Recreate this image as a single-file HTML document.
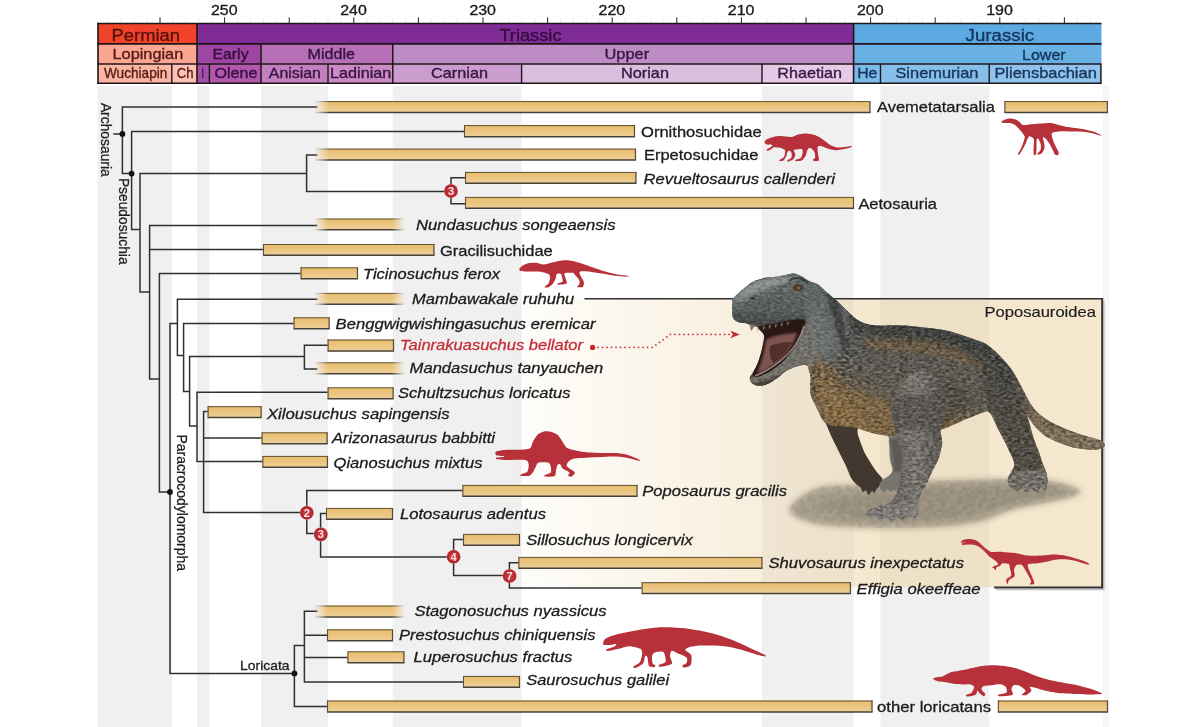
<!DOCTYPE html>
<html lang="en"><head><meta charset="utf-8"><title>Poposauroidea time-calibrated phylogeny</title>
<style>
html,body{margin:0;padding:0;background:#fff;}
body{width:1200px;height:727px;overflow:hidden;font-family:"Liberation Sans",sans-serif;}
svg{display:block;}
text{font-family:"Liberation Sans",sans-serif;}
</style></head><body>
<svg width="1200" height="727" viewBox="0 0 1200 727">
<defs>
<linearGradient id="barG" x1="0" y1="0" x2="0" y2="1">
 <stop offset="0" stop-color="#E7BC6C"/><stop offset="0.45" stop-color="#EBC47E"/><stop offset="1" stop-color="#EDD09B"/>
</linearGradient>
<linearGradient id="boxG" gradientUnits="userSpaceOnUse" x1="490" y1="0" x2="870" y2="0">
 <stop offset="0" stop-color="#ECD2A2" stop-opacity="0"/><stop offset="1" stop-color="#ECD2A2" stop-opacity="0.52"/>
</linearGradient>
<linearGradient id="fadeL" gradientUnits="userSpaceOnUse" x1="314" y1="0" x2="329" y2="0">
 <stop offset="0" stop-color="#fff" stop-opacity="0"/><stop offset="1" stop-color="#fff" stop-opacity="1"/>
</linearGradient>
<linearGradient id="fadeLR" gradientUnits="userSpaceOnUse" x1="314" y1="0" x2="405" y2="0">
 <stop offset="0" stop-color="#fff" stop-opacity="0"/><stop offset="0.15" stop-color="#fff" stop-opacity="1"/>
 <stop offset="0.86" stop-color="#fff" stop-opacity="1"/><stop offset="1" stop-color="#fff" stop-opacity="0"/>
</linearGradient>
<mask id="mL" maskUnits="userSpaceOnUse" x="300" y="90" width="820" height="640"><rect x="300" y="90" width="820" height="640" fill="url(#fadeL)"/></mask>
<mask id="mLR" maskUnits="userSpaceOnUse" x="300" y="90" width="120" height="640"><rect x="300" y="90" width="120" height="640" fill="url(#fadeLR)"/></mask>
<filter id="blur3" x="-20%" y="-40%" width="140%" height="180%"><feGaussianBlur stdDeviation="3.2"/></filter>
<filter id="blur1" x="-20%" y="-20%" width="140%" height="140%"><feGaussianBlur stdDeviation="1.2"/></filter>
<filter id="blur2" x="-20%" y="-20%" width="140%" height="140%"><feGaussianBlur stdDeviation="2.2"/></filter>
<filter id="blur5" x="-30%" y="-30%" width="160%" height="160%"><feGaussianBlur stdDeviation="5"/></filter>
<filter id="soft" x="-5%" y="-5%" width="110%" height="110%"><feGaussianBlur stdDeviation="0.45"/></filter>
</defs>
<rect x="0" y="0" width="1200" height="727" fill="#fff"/>
<rect x="97.5" y="86" width="74.5" height="641" fill="#F0F0F0"/>
<rect x="197" y="86" width="12.4" height="641" fill="#F0F0F0"/>
<rect x="261" y="86" width="67.0" height="641" fill="#F0F0F0"/>
<rect x="392.8" y="86" width="128.8" height="641" fill="#F0F0F0"/>
<rect x="762" y="86" width="91.6" height="641" fill="#F0F0F0"/>
<rect x="880.5" y="86" width="108.7" height="641" fill="#F0F0F0"/>
<rect x="1103" y="86" width="6" height="641" fill="#F6F6F6"/>
<rect x="490" y="298.7" width="612.2" height="288.6" fill="url(#boxG)"/>
<line x1="1090.2" y1="19.5" x2="1090.2" y2="23.5" stroke="#e2e2e2" stroke-width="0.9"/>
<line x1="1077.3" y1="19.5" x2="1077.3" y2="23.5" stroke="#e2e2e2" stroke-width="0.9"/>
<line x1="1064.4" y1="17.3" x2="1064.4" y2="23.5" stroke="#222" stroke-width="1"/>
<line x1="1051.5" y1="19.5" x2="1051.5" y2="23.5" stroke="#e2e2e2" stroke-width="0.9"/>
<line x1="1038.6" y1="19.5" x2="1038.6" y2="23.5" stroke="#e2e2e2" stroke-width="0.9"/>
<line x1="1025.6" y1="19.5" x2="1025.6" y2="23.5" stroke="#e2e2e2" stroke-width="0.9"/>
<line x1="1012.7" y1="19.5" x2="1012.7" y2="23.5" stroke="#e2e2e2" stroke-width="0.9"/>
<line x1="999.8" y1="17.3" x2="999.8" y2="23.5" stroke="#222" stroke-width="1"/>
<line x1="986.9" y1="19.5" x2="986.9" y2="23.5" stroke="#e2e2e2" stroke-width="0.9"/>
<line x1="974.0" y1="19.5" x2="974.0" y2="23.5" stroke="#e2e2e2" stroke-width="0.9"/>
<line x1="961.0" y1="19.5" x2="961.0" y2="23.5" stroke="#e2e2e2" stroke-width="0.9"/>
<line x1="948.1" y1="19.5" x2="948.1" y2="23.5" stroke="#e2e2e2" stroke-width="0.9"/>
<line x1="935.2" y1="17.3" x2="935.2" y2="23.5" stroke="#222" stroke-width="1"/>
<line x1="922.3" y1="19.5" x2="922.3" y2="23.5" stroke="#e2e2e2" stroke-width="0.9"/>
<line x1="909.4" y1="19.5" x2="909.4" y2="23.5" stroke="#e2e2e2" stroke-width="0.9"/>
<line x1="896.4" y1="19.5" x2="896.4" y2="23.5" stroke="#e2e2e2" stroke-width="0.9"/>
<line x1="883.5" y1="19.5" x2="883.5" y2="23.5" stroke="#e2e2e2" stroke-width="0.9"/>
<line x1="870.6" y1="17.3" x2="870.6" y2="23.5" stroke="#222" stroke-width="1"/>
<line x1="857.7" y1="19.5" x2="857.7" y2="23.5" stroke="#e2e2e2" stroke-width="0.9"/>
<line x1="844.8" y1="19.5" x2="844.8" y2="23.5" stroke="#e2e2e2" stroke-width="0.9"/>
<line x1="831.8" y1="19.5" x2="831.8" y2="23.5" stroke="#e2e2e2" stroke-width="0.9"/>
<line x1="818.9" y1="19.5" x2="818.9" y2="23.5" stroke="#e2e2e2" stroke-width="0.9"/>
<line x1="806.0" y1="17.3" x2="806.0" y2="23.5" stroke="#222" stroke-width="1"/>
<line x1="793.1" y1="19.5" x2="793.1" y2="23.5" stroke="#e2e2e2" stroke-width="0.9"/>
<line x1="780.2" y1="19.5" x2="780.2" y2="23.5" stroke="#e2e2e2" stroke-width="0.9"/>
<line x1="767.2" y1="19.5" x2="767.2" y2="23.5" stroke="#e2e2e2" stroke-width="0.9"/>
<line x1="754.3" y1="19.5" x2="754.3" y2="23.5" stroke="#e2e2e2" stroke-width="0.9"/>
<line x1="741.4" y1="17.3" x2="741.4" y2="23.5" stroke="#222" stroke-width="1"/>
<line x1="728.5" y1="19.5" x2="728.5" y2="23.5" stroke="#e2e2e2" stroke-width="0.9"/>
<line x1="715.6" y1="19.5" x2="715.6" y2="23.5" stroke="#e2e2e2" stroke-width="0.9"/>
<line x1="702.6" y1="19.5" x2="702.6" y2="23.5" stroke="#e2e2e2" stroke-width="0.9"/>
<line x1="689.7" y1="19.5" x2="689.7" y2="23.5" stroke="#e2e2e2" stroke-width="0.9"/>
<line x1="676.8" y1="17.3" x2="676.8" y2="23.5" stroke="#222" stroke-width="1"/>
<line x1="663.9" y1="19.5" x2="663.9" y2="23.5" stroke="#e2e2e2" stroke-width="0.9"/>
<line x1="651.0" y1="19.5" x2="651.0" y2="23.5" stroke="#e2e2e2" stroke-width="0.9"/>
<line x1="638.0" y1="19.5" x2="638.0" y2="23.5" stroke="#e2e2e2" stroke-width="0.9"/>
<line x1="625.1" y1="19.5" x2="625.1" y2="23.5" stroke="#e2e2e2" stroke-width="0.9"/>
<line x1="612.2" y1="17.3" x2="612.2" y2="23.5" stroke="#222" stroke-width="1"/>
<line x1="599.3" y1="19.5" x2="599.3" y2="23.5" stroke="#e2e2e2" stroke-width="0.9"/>
<line x1="586.4" y1="19.5" x2="586.4" y2="23.5" stroke="#e2e2e2" stroke-width="0.9"/>
<line x1="573.4" y1="19.5" x2="573.4" y2="23.5" stroke="#e2e2e2" stroke-width="0.9"/>
<line x1="560.5" y1="19.5" x2="560.5" y2="23.5" stroke="#e2e2e2" stroke-width="0.9"/>
<line x1="547.6" y1="17.3" x2="547.6" y2="23.5" stroke="#222" stroke-width="1"/>
<line x1="534.7" y1="19.5" x2="534.7" y2="23.5" stroke="#e2e2e2" stroke-width="0.9"/>
<line x1="521.8" y1="19.5" x2="521.8" y2="23.5" stroke="#e2e2e2" stroke-width="0.9"/>
<line x1="508.8" y1="19.5" x2="508.8" y2="23.5" stroke="#e2e2e2" stroke-width="0.9"/>
<line x1="495.9" y1="19.5" x2="495.9" y2="23.5" stroke="#e2e2e2" stroke-width="0.9"/>
<line x1="483.0" y1="17.3" x2="483.0" y2="23.5" stroke="#222" stroke-width="1"/>
<line x1="470.1" y1="19.5" x2="470.1" y2="23.5" stroke="#e2e2e2" stroke-width="0.9"/>
<line x1="457.2" y1="19.5" x2="457.2" y2="23.5" stroke="#e2e2e2" stroke-width="0.9"/>
<line x1="444.2" y1="19.5" x2="444.2" y2="23.5" stroke="#e2e2e2" stroke-width="0.9"/>
<line x1="431.3" y1="19.5" x2="431.3" y2="23.5" stroke="#e2e2e2" stroke-width="0.9"/>
<line x1="418.4" y1="17.3" x2="418.4" y2="23.5" stroke="#222" stroke-width="1"/>
<line x1="405.5" y1="19.5" x2="405.5" y2="23.5" stroke="#e2e2e2" stroke-width="0.9"/>
<line x1="392.6" y1="19.5" x2="392.6" y2="23.5" stroke="#e2e2e2" stroke-width="0.9"/>
<line x1="379.6" y1="19.5" x2="379.6" y2="23.5" stroke="#e2e2e2" stroke-width="0.9"/>
<line x1="366.7" y1="19.5" x2="366.7" y2="23.5" stroke="#e2e2e2" stroke-width="0.9"/>
<line x1="353.8" y1="17.3" x2="353.8" y2="23.5" stroke="#222" stroke-width="1"/>
<line x1="340.9" y1="19.5" x2="340.9" y2="23.5" stroke="#e2e2e2" stroke-width="0.9"/>
<line x1="328.0" y1="19.5" x2="328.0" y2="23.5" stroke="#e2e2e2" stroke-width="0.9"/>
<line x1="315.0" y1="19.5" x2="315.0" y2="23.5" stroke="#e2e2e2" stroke-width="0.9"/>
<line x1="302.1" y1="19.5" x2="302.1" y2="23.5" stroke="#e2e2e2" stroke-width="0.9"/>
<line x1="289.2" y1="17.3" x2="289.2" y2="23.5" stroke="#222" stroke-width="1"/>
<line x1="276.3" y1="19.5" x2="276.3" y2="23.5" stroke="#e2e2e2" stroke-width="0.9"/>
<line x1="263.4" y1="19.5" x2="263.4" y2="23.5" stroke="#e2e2e2" stroke-width="0.9"/>
<line x1="250.4" y1="19.5" x2="250.4" y2="23.5" stroke="#e2e2e2" stroke-width="0.9"/>
<line x1="237.5" y1="19.5" x2="237.5" y2="23.5" stroke="#e2e2e2" stroke-width="0.9"/>
<line x1="224.6" y1="17.3" x2="224.6" y2="23.5" stroke="#222" stroke-width="1"/>
<line x1="211.7" y1="19.5" x2="211.7" y2="23.5" stroke="#e2e2e2" stroke-width="0.9"/>
<line x1="198.8" y1="19.5" x2="198.8" y2="23.5" stroke="#e2e2e2" stroke-width="0.9"/>
<line x1="185.8" y1="19.5" x2="185.8" y2="23.5" stroke="#e2e2e2" stroke-width="0.9"/>
<line x1="172.9" y1="19.5" x2="172.9" y2="23.5" stroke="#e2e2e2" stroke-width="0.9"/>
<line x1="160.0" y1="17.3" x2="160.0" y2="23.5" stroke="#222" stroke-width="1"/>
<line x1="147.1" y1="19.5" x2="147.1" y2="23.5" stroke="#e2e2e2" stroke-width="0.9"/>
<line x1="134.2" y1="19.5" x2="134.2" y2="23.5" stroke="#e2e2e2" stroke-width="0.9"/>
<line x1="121.2" y1="19.5" x2="121.2" y2="23.5" stroke="#e2e2e2" stroke-width="0.9"/>
<line x1="108.3" y1="19.5" x2="108.3" y2="23.5" stroke="#e2e2e2" stroke-width="0.9"/>
<text x="986.2" y="14.5" font-size="14.2" fill="#1a1a1a" stroke="#1a1a1a" stroke-width="0.3" textLength="26.6" lengthAdjust="spacingAndGlyphs">190</text>
<text x="857.0" y="14.5" font-size="14.2" fill="#1a1a1a" stroke="#1a1a1a" stroke-width="0.3" textLength="26.6" lengthAdjust="spacingAndGlyphs">200</text>
<text x="727.8" y="14.5" font-size="14.2" fill="#1a1a1a" stroke="#1a1a1a" stroke-width="0.3" textLength="26.6" lengthAdjust="spacingAndGlyphs">210</text>
<text x="598.6" y="14.5" font-size="14.2" fill="#1a1a1a" stroke="#1a1a1a" stroke-width="0.3" textLength="26.6" lengthAdjust="spacingAndGlyphs">220</text>
<text x="469.4" y="14.5" font-size="14.2" fill="#1a1a1a" stroke="#1a1a1a" stroke-width="0.3" textLength="26.6" lengthAdjust="spacingAndGlyphs">230</text>
<text x="340.2" y="14.5" font-size="14.2" fill="#1a1a1a" stroke="#1a1a1a" stroke-width="0.3" textLength="26.6" lengthAdjust="spacingAndGlyphs">240</text>
<text x="211.0" y="14.5" font-size="14.2" fill="#1a1a1a" stroke="#1a1a1a" stroke-width="0.3" textLength="26.6" lengthAdjust="spacingAndGlyphs">250</text>
<rect x="98" y="23.5" width="99.0" height="20.4" fill="#F0432A"/>
<rect x="197" y="23.5" width="656.6" height="20.4" fill="#802C96"/>
<rect x="853.6" y="23.5" width="247.9" height="20.4" fill="#5CAAE1"/>
<rect x="98" y="43.9" width="99.0" height="20.0" fill="#FAA692"/>
<rect x="197" y="43.9" width="64.0" height="20.0" fill="#9D46A3"/>
<rect x="261" y="43.9" width="131.8" height="20.0" fill="#B76FB7"/>
<rect x="392.8" y="43.9" width="460.8" height="20.0" fill="#BE8CC4"/>
<rect x="853.6" y="43.9" width="247.9" height="20.0" fill="#69B0E3"/>
<rect x="98" y="63.9" width="73.8" height="19.3" fill="#FBB5A3"/>
<rect x="171.8" y="63.9" width="25.2" height="19.3" fill="#FCC2B3"/>
<rect x="197" y="63.9" width="12.4" height="19.3" fill="#A44FA8"/>
<rect x="209.4" y="63.9" width="51.6" height="19.3" fill="#B158AC"/>
<rect x="261" y="63.9" width="67.0" height="19.3" fill="#C280BF"/>
<rect x="328" y="63.9" width="64.8" height="19.3" fill="#CA8BC5"/>
<rect x="392.8" y="63.9" width="128.8" height="19.3" fill="#CB9DCE"/>
<rect x="521.6" y="63.9" width="240.4" height="19.3" fill="#D9BFDE"/>
<rect x="762" y="63.9" width="91.6" height="19.3" fill="#E5CBE5"/>
<rect x="853.6" y="63.9" width="26.9" height="19.3" fill="#7DBAE8"/>
<rect x="880.5" y="63.9" width="108.7" height="19.3" fill="#86BFEA"/>
<rect x="989.2" y="63.9" width="112.3" height="19.3" fill="#8FC3EB"/>
<line x1="97.3" y1="23.5" x2="1101.5" y2="23.5" stroke="#1f1418" stroke-width="1.6"/>
<line x1="97.3" y1="43.9" x2="1101.5" y2="43.9" stroke="#1f1418" stroke-width="1.6"/>
<line x1="97.3" y1="63.9" x2="1101.5" y2="63.9" stroke="#1f1418" stroke-width="1.5"/>
<line x1="97.3" y1="83.2" x2="1101.5" y2="83.2" stroke="#1f1418" stroke-width="1.6"/>
<line x1="98" y1="22.7" x2="98" y2="84.0" stroke="#1f1418" stroke-width="1.6"/>
<line x1="197" y1="23.5" x2="197" y2="83.2" stroke="#1f1418" stroke-width="1.6"/>
<line x1="853.6" y1="23.5" x2="853.6" y2="83.2" stroke="#1f1418" stroke-width="1.6"/>
<line x1="261" y1="43.9" x2="261" y2="83.2" stroke="#1f1418" stroke-width="1.5"/>
<line x1="392.8" y1="43.9" x2="392.8" y2="83.2" stroke="#1f1418" stroke-width="1.5"/>
<line x1="171.8" y1="63.9" x2="171.8" y2="83.2" stroke="#1f1418" stroke-width="1.4"/>
<line x1="209.4" y1="63.9" x2="209.4" y2="83.2" stroke="#1f1418" stroke-width="1.4"/>
<line x1="328" y1="63.9" x2="328" y2="83.2" stroke="#1f1418" stroke-width="1.4"/>
<line x1="521.6" y1="63.9" x2="521.6" y2="83.2" stroke="#1f1418" stroke-width="1.4"/>
<line x1="762" y1="63.9" x2="762" y2="83.2" stroke="#1f1418" stroke-width="1.4"/>
<line x1="880.5" y1="63.9" x2="880.5" y2="83.2" stroke="#1f1418" stroke-width="1.4"/>
<line x1="989.2" y1="63.9" x2="989.2" y2="83.2" stroke="#1f1418" stroke-width="1.4"/>
<line x1="1100.9" y1="63.9" x2="1100.9" y2="83.2" stroke="#1f1418" stroke-width="1.4"/>
<text x="111.5" y="40.8" font-size="17.2" fill="#4a0d0a" fill-opacity="0.9" stroke="#4a0d0a" stroke-opacity="0.9" stroke-width="0.35" textLength="68.5" lengthAdjust="spacingAndGlyphs">Permian</text>
<text x="499.4" y="40.7" font-size="17.2" fill="#2d0a38" fill-opacity="0.9" stroke="#2d0a38" stroke-opacity="0.9" stroke-width="0.35" textLength="62.1" lengthAdjust="spacingAndGlyphs">Triassic</text>
<text x="965.6" y="40.8" font-size="17.2" fill="#0e2a52" fill-opacity="0.9" stroke="#0e2a52" stroke-opacity="0.9" stroke-width="0.35" textLength="68.6" lengthAdjust="spacingAndGlyphs">Jurassic</text>
<text x="112.5" y="59.2" font-size="15" fill="#4a0d0a" fill-opacity="0.9" stroke="#4a0d0a" stroke-opacity="0.9" stroke-width="0.35" textLength="70.7" lengthAdjust="spacingAndGlyphs">Lopingian</text>
<text x="212.4" y="58.8" font-size="15" fill="#2d0a38" fill-opacity="0.9" stroke="#2d0a38" stroke-opacity="0.9" stroke-width="0.35" textLength="36.2" lengthAdjust="spacingAndGlyphs">Early</text>
<text x="307.6" y="58.8" font-size="15" fill="#2d0a38" fill-opacity="0.9" stroke="#2d0a38" stroke-opacity="0.9" stroke-width="0.35" textLength="47.3" lengthAdjust="spacingAndGlyphs">Middle</text>
<text x="604.5" y="59.0" font-size="15" fill="#2d0a38" fill-opacity="0.9" stroke="#2d0a38" stroke-opacity="0.9" stroke-width="0.35" textLength="44.7" lengthAdjust="spacingAndGlyphs">Upper</text>
<text x="1022" y="60.4" font-size="15" fill="#0e2a52" fill-opacity="0.9" stroke="#0e2a52" stroke-opacity="0.9" stroke-width="0.35" textLength="43.7" lengthAdjust="spacingAndGlyphs">Lower</text>
<text x="104" y="78.3" font-size="14.2" fill="#4a0d0a" fill-opacity="0.9" stroke="#4a0d0a" stroke-opacity="0.9" stroke-width="0.35" textLength="63.3" lengthAdjust="spacingAndGlyphs">Wuchiapin</text>
<text x="176.8" y="78.3" font-size="14.2" fill="#4a0d0a" fill-opacity="0.9" stroke="#4a0d0a" stroke-opacity="0.9" stroke-width="0.35" textLength="16.7" lengthAdjust="spacingAndGlyphs">Ch</text>
<text x="201.6" y="78.3" font-size="14.2" fill="#2d0a38" fill-opacity="0.9" stroke="#2d0a38" stroke-opacity="0.9" stroke-width="0.35" textLength="2.4" lengthAdjust="spacingAndGlyphs">I</text>
<text x="214.5" y="78.3" font-size="14.2" fill="#2d0a38" fill-opacity="0.9" stroke="#2d0a38" stroke-opacity="0.9" stroke-width="0.35" textLength="42.9" lengthAdjust="spacingAndGlyphs">Olene</text>
<text x="268.8" y="78.3" font-size="14.2" fill="#2d0a38" fill-opacity="0.9" stroke="#2d0a38" stroke-opacity="0.9" stroke-width="0.35" textLength="52.1" lengthAdjust="spacingAndGlyphs">Anisian</text>
<text x="330" y="78.3" font-size="14.2" fill="#2d0a38" fill-opacity="0.9" stroke="#2d0a38" stroke-opacity="0.9" stroke-width="0.35" textLength="61.3" lengthAdjust="spacingAndGlyphs">Ladinian</text>
<text x="431.1" y="78.3" font-size="14.2" fill="#2d0a38" fill-opacity="0.9" stroke="#2d0a38" stroke-opacity="0.9" stroke-width="0.35" textLength="56.9" lengthAdjust="spacingAndGlyphs">Carnian</text>
<text x="620.9" y="78.3" font-size="14.2" fill="#2d0a38" fill-opacity="0.9" stroke="#2d0a38" stroke-opacity="0.9" stroke-width="0.35" textLength="48.1" lengthAdjust="spacingAndGlyphs">Norian</text>
<text x="777.3" y="78.3" font-size="14.2" fill="#2d0a38" fill-opacity="0.9" stroke="#2d0a38" stroke-opacity="0.9" stroke-width="0.35" textLength="64.7" lengthAdjust="spacingAndGlyphs">Rhaetian</text>
<text x="857.2" y="78.3" font-size="14.2" fill="#0e2a52" fill-opacity="0.9" stroke="#0e2a52" stroke-opacity="0.9" stroke-width="0.35" textLength="20.2" lengthAdjust="spacingAndGlyphs">He</text>
<text x="895.4" y="78.3" font-size="14.2" fill="#0e2a52" fill-opacity="0.9" stroke="#0e2a52" stroke-opacity="0.9" stroke-width="0.35" textLength="83.1" lengthAdjust="spacingAndGlyphs">Sinemurian</text>
<text x="994.4" y="78.3" font-size="14.2" fill="#0e2a52" fill-opacity="0.9" stroke="#0e2a52" stroke-opacity="0.9" stroke-width="0.35" textLength="102.4" lengthAdjust="spacingAndGlyphs">Pliensbachian</text>
<path d="M114,134L122.4,134 M122.4,107L122.4,173.6 M122.4,107L316.6,107 M122.4,173.6L131.6,173.6 M131.6,131.6L131.6,229.4 M131.6,131.6L465,131.6 M131.6,229.4L140,229.4 M140,173.6L140,292 M140,173.6L306.6,173.6 M306.6,155L306.6,191.4 M306.6,155L316.6,155 M306.6,191.4L451,191.4 M451,177.8L451,203.8 M451,177.8L466,177.8 M451,203.8L466,203.8 M140,292L149.6,292 M149.6,225.6L149.6,379 M149.6,225.6L316.6,225.6 M149.6,249.6L264,249.6 M149.6,379L159.4,379 M159.4,273.4L159.4,492 M159.4,273.4L301,273.4 M159.4,492L170,492 M170,323.6L170,673.4 M170,323.6L177.4,323.6 M177.4,299.2L177.4,355.4 M177.4,299.2L316.6,299.2 M177.4,355.4L183.6,355.4 M183.6,323.4L183.6,391.6 M183.6,323.4L294.5,323.4 M183.6,391.6L189.6,391.6 M189.6,356.6L189.6,426 M189.6,356.6L304.4,356.6 M304.4,345.2L304.4,369 M304.4,345.2L328.5,345.2 M304.4,369L316.6,369 M189.6,426L197,426 M197,392.2L197,461.6 M197,392.2L328.5,392.2 M197,461.6L263,461.6 M203.6,411.5L203.6,512.6 M203.6,411.5L208.5,411.5 M203.6,438L262.5,438 M203.6,512.6L306.8,512.6 M306.8,490.6L306.8,533.6 M306.8,490.6L463,490.6 M306.8,533.6L320.6,533.6 M320.6,513.6L320.6,557 M320.6,513.6L327,513.6 M320.6,557L453.6,557 M453.6,539.6L453.6,575.6 M453.6,539.6L464,539.6 M453.6,575.6L509.4,575.6 M509.4,562.8L509.4,588 M509.4,562.8L519,562.8 M509.4,588L642.5,588 M170,673.4L294.4,673.4 M294.4,645.6L294.4,706.6 M294.4,706.6L328,706.6 M294.4,645.6L304.4,645.6 M304.4,611.2L304.4,682 M304.4,611.2L316.6,611.2 M304.4,635.2L328,635.2 M304.4,657.4L348,657.4 M304.4,682L464,682" fill="none" stroke="#303030" stroke-width="1.5" stroke-linecap="square"/>
<circle cx="122.4" cy="134" r="2.9" fill="#111"/>
<circle cx="131.6" cy="173.6" r="2.9" fill="#111"/>
<circle cx="170" cy="492" r="2.9" fill="#111"/>
<circle cx="294.4" cy="673.4" r="2.9" fill="#111"/>
<g mask="url(#mL)"><rect x="314" y="101.2" width="556.4" height="11.6" fill="url(#barG)"/><path d="M314,101.60000000000001H870.4" stroke="#5d5339" stroke-width="1" fill="none"/><path d="M314,112.5H870.4" stroke="#474238" stroke-width="1.5" fill="none"/><path d="M869.9,101.2V112.8" stroke="#544a36" stroke-width="1.2" fill="none"/></g>
<g><rect x="1004.4" y="101.2" width="103.4" height="11.6" fill="url(#barG)"/><path d="M1004.4,101.60000000000001H1107.8" stroke="#5d5339" stroke-width="1" fill="none"/><path d="M1004.4,112.5H1107.8" stroke="#474238" stroke-width="1.5" fill="none"/><path d="M1107.3,101.2V112.8" stroke="#544a36" stroke-width="1.2" fill="none"/><path d="M1004.9,101.2V112.8" stroke="#5d5339" stroke-width="1.1" fill="none"/></g>
<g><rect x="464" y="125.2" width="171.0" height="11.8" fill="url(#barG)"/><path d="M464,125.60000000000001H635" stroke="#5d5339" stroke-width="1" fill="none"/><path d="M464,136.7H635" stroke="#474238" stroke-width="1.5" fill="none"/><path d="M634.5,125.2V137" stroke="#544a36" stroke-width="1.2" fill="none"/><path d="M464.5,125.2V137" stroke="#5d5339" stroke-width="1.1" fill="none"/></g>
<g mask="url(#mL)"><rect x="314" y="148.7" width="322.0" height="11.7" fill="url(#barG)"/><path d="M314,149.1H636" stroke="#5d5339" stroke-width="1" fill="none"/><path d="M314,160.1H636" stroke="#474238" stroke-width="1.5" fill="none"/><path d="M635.5,148.7V160.4" stroke="#544a36" stroke-width="1.2" fill="none"/></g>
<g><rect x="465" y="172" width="171.4" height="11.6" fill="url(#barG)"/><path d="M465,172.4H636.4" stroke="#5d5339" stroke-width="1" fill="none"/><path d="M465,183.29999999999998H636.4" stroke="#474238" stroke-width="1.5" fill="none"/><path d="M635.9,172V183.6" stroke="#544a36" stroke-width="1.2" fill="none"/><path d="M465.5,172V183.6" stroke="#5d5339" stroke-width="1.1" fill="none"/></g>
<g><rect x="465" y="197" width="389.0" height="11.6" fill="url(#barG)"/><path d="M465,197.4H854" stroke="#5d5339" stroke-width="1" fill="none"/><path d="M465,208.29999999999998H854" stroke="#474238" stroke-width="1.5" fill="none"/><path d="M853.5,197V208.6" stroke="#544a36" stroke-width="1.2" fill="none"/><path d="M465.5,197V208.6" stroke="#5d5339" stroke-width="1.1" fill="none"/></g>
<g mask="url(#mLR)"><rect x="314" y="218.6" width="91.0" height="11.5" fill="url(#barG)"/><path d="M314,219.0H405" stroke="#5d5339" stroke-width="1" fill="none"/><path d="M314,229.79999999999998H405" stroke="#474238" stroke-width="1.5" fill="none"/></g>
<g><rect x="263" y="244.1" width="171.4" height="11.5" fill="url(#barG)"/><path d="M263,244.5H434.4" stroke="#5d5339" stroke-width="1" fill="none"/><path d="M263,255.29999999999998H434.4" stroke="#474238" stroke-width="1.5" fill="none"/><path d="M433.9,244.1V255.6" stroke="#544a36" stroke-width="1.2" fill="none"/><path d="M263.5,244.1V255.6" stroke="#5d5339" stroke-width="1.1" fill="none"/></g>
<g><rect x="300.6" y="267.4" width="57.4" height="11.6" fill="url(#barG)"/><path d="M300.6,267.79999999999995H358" stroke="#5d5339" stroke-width="1" fill="none"/><path d="M300.6,278.7H358" stroke="#474238" stroke-width="1.5" fill="none"/><path d="M357.5,267.4V279" stroke="#544a36" stroke-width="1.2" fill="none"/><path d="M301.1,267.4V279" stroke="#5d5339" stroke-width="1.1" fill="none"/></g>
<g mask="url(#mLR)"><rect x="314" y="293" width="91.0" height="11.6" fill="url(#barG)"/><path d="M314,293.4H405" stroke="#5d5339" stroke-width="1" fill="none"/><path d="M314,304.3H405" stroke="#474238" stroke-width="1.5" fill="none"/></g>
<g><rect x="293.6" y="317.4" width="36.0" height="11.6" fill="url(#barG)"/><path d="M293.6,317.79999999999995H329.6" stroke="#5d5339" stroke-width="1" fill="none"/><path d="M293.6,328.7H329.6" stroke="#474238" stroke-width="1.5" fill="none"/><path d="M329.1,317.4V329" stroke="#544a36" stroke-width="1.2" fill="none"/><path d="M294.1,317.4V329" stroke="#5d5339" stroke-width="1.1" fill="none"/></g>
<g><rect x="327.6" y="339.6" width="66.4" height="11.6" fill="url(#barG)"/><path d="M327.6,340.0H394" stroke="#5d5339" stroke-width="1" fill="none"/><path d="M327.6,350.9H394" stroke="#474238" stroke-width="1.5" fill="none"/><path d="M393.5,339.6V351.2" stroke="#544a36" stroke-width="1.2" fill="none"/><path d="M328.1,339.6V351.2" stroke="#5d5339" stroke-width="1.1" fill="none"/></g>
<g mask="url(#mLR)"><rect x="314" y="362.4" width="91.0" height="11.6" fill="url(#barG)"/><path d="M314,362.79999999999995H405" stroke="#5d5339" stroke-width="1" fill="none"/><path d="M314,373.7H405" stroke="#474238" stroke-width="1.5" fill="none"/></g>
<g><rect x="327.6" y="387.4" width="66.0" height="11.6" fill="url(#barG)"/><path d="M327.6,387.79999999999995H393.6" stroke="#5d5339" stroke-width="1" fill="none"/><path d="M327.6,398.7H393.6" stroke="#474238" stroke-width="1.5" fill="none"/><path d="M393.1,387.4V399" stroke="#544a36" stroke-width="1.2" fill="none"/><path d="M328.1,387.4V399" stroke="#5d5339" stroke-width="1.1" fill="none"/></g>
<g><rect x="207.6" y="406.3" width="54.0" height="11.4" fill="url(#barG)"/><path d="M207.6,406.7H261.6" stroke="#5d5339" stroke-width="1" fill="none"/><path d="M207.6,417.4H261.6" stroke="#474238" stroke-width="1.5" fill="none"/><path d="M261.1,406.3V417.7" stroke="#544a36" stroke-width="1.2" fill="none"/><path d="M208.1,406.3V417.7" stroke="#5d5339" stroke-width="1.1" fill="none"/></g>
<g><rect x="261.6" y="432.4" width="66.0" height="11.6" fill="url(#barG)"/><path d="M261.6,432.79999999999995H327.6" stroke="#5d5339" stroke-width="1" fill="none"/><path d="M261.6,443.7H327.6" stroke="#474238" stroke-width="1.5" fill="none"/><path d="M327.1,432.4V444" stroke="#544a36" stroke-width="1.2" fill="none"/><path d="M262.1,432.4V444" stroke="#5d5339" stroke-width="1.1" fill="none"/></g>
<g><rect x="262.4" y="456" width="65.6" height="11.6" fill="url(#barG)"/><path d="M262.4,456.4H328" stroke="#5d5339" stroke-width="1" fill="none"/><path d="M262.4,467.3H328" stroke="#474238" stroke-width="1.5" fill="none"/><path d="M327.5,456V467.6" stroke="#544a36" stroke-width="1.2" fill="none"/><path d="M262.9,456V467.6" stroke="#5d5339" stroke-width="1.1" fill="none"/></g>
<g><rect x="462.4" y="485" width="175.1" height="11.6" fill="url(#barG)"/><path d="M462.4,485.4H637.5" stroke="#5d5339" stroke-width="1" fill="none"/><path d="M462.4,496.3H637.5" stroke="#474238" stroke-width="1.5" fill="none"/><path d="M637.0,485V496.6" stroke="#544a36" stroke-width="1.2" fill="none"/><path d="M462.9,485V496.6" stroke="#5d5339" stroke-width="1.1" fill="none"/></g>
<g><rect x="326" y="508" width="67.0" height="11.6" fill="url(#barG)"/><path d="M326,508.4H393" stroke="#5d5339" stroke-width="1" fill="none"/><path d="M326,519.3000000000001H393" stroke="#474238" stroke-width="1.5" fill="none"/><path d="M392.5,508V519.6" stroke="#544a36" stroke-width="1.2" fill="none"/><path d="M326.5,508V519.6" stroke="#5d5339" stroke-width="1.1" fill="none"/></g>
<g><rect x="463" y="534" width="57.0" height="11.6" fill="url(#barG)"/><path d="M463,534.4H520" stroke="#5d5339" stroke-width="1" fill="none"/><path d="M463,545.3000000000001H520" stroke="#474238" stroke-width="1.5" fill="none"/><path d="M519.5,534V545.6" stroke="#544a36" stroke-width="1.2" fill="none"/><path d="M463.5,534V545.6" stroke="#5d5339" stroke-width="1.1" fill="none"/></g>
<g><rect x="518.4" y="557" width="244.0" height="11.5" fill="url(#barG)"/><path d="M518.4,557.4H762.4" stroke="#5d5339" stroke-width="1" fill="none"/><path d="M518.4,568.2H762.4" stroke="#474238" stroke-width="1.5" fill="none"/><path d="M761.9,557V568.5" stroke="#544a36" stroke-width="1.2" fill="none"/><path d="M518.9,557V568.5" stroke="#5d5339" stroke-width="1.1" fill="none"/></g>
<g><rect x="641.7" y="582.3" width="209.2" height="11.5" fill="url(#barG)"/><path d="M641.7,582.6999999999999H850.9" stroke="#5d5339" stroke-width="1" fill="none"/><path d="M641.7,593.5H850.9" stroke="#474238" stroke-width="1.5" fill="none"/><path d="M850.4,582.3V593.8" stroke="#544a36" stroke-width="1.2" fill="none"/><path d="M642.2,582.3V593.8" stroke="#5d5339" stroke-width="1.1" fill="none"/></g>
<g mask="url(#mLR)"><rect x="314" y="605.6" width="91.0" height="11.6" fill="url(#barG)"/><path d="M314,606.0H405" stroke="#5d5339" stroke-width="1" fill="none"/><path d="M314,616.9000000000001H405" stroke="#474238" stroke-width="1.5" fill="none"/></g>
<g><rect x="327" y="629.4" width="66.0" height="11.6" fill="url(#barG)"/><path d="M327,629.8H393" stroke="#5d5339" stroke-width="1" fill="none"/><path d="M327,640.7H393" stroke="#474238" stroke-width="1.5" fill="none"/><path d="M392.5,629.4V641" stroke="#544a36" stroke-width="1.2" fill="none"/><path d="M327.5,629.4V641" stroke="#5d5339" stroke-width="1.1" fill="none"/></g>
<g><rect x="347.4" y="651.4" width="57.0" height="11.6" fill="url(#barG)"/><path d="M347.4,651.8H404.4" stroke="#5d5339" stroke-width="1" fill="none"/><path d="M347.4,662.7H404.4" stroke="#474238" stroke-width="1.5" fill="none"/><path d="M403.9,651.4V663" stroke="#544a36" stroke-width="1.2" fill="none"/><path d="M347.9,651.4V663" stroke="#5d5339" stroke-width="1.1" fill="none"/></g>
<g><rect x="463" y="676" width="57.0" height="11.6" fill="url(#barG)"/><path d="M463,676.4H520" stroke="#5d5339" stroke-width="1" fill="none"/><path d="M463,687.3000000000001H520" stroke="#474238" stroke-width="1.5" fill="none"/><path d="M519.5,676V687.6" stroke="#544a36" stroke-width="1.2" fill="none"/><path d="M463.5,676V687.6" stroke="#5d5339" stroke-width="1.1" fill="none"/></g>
<g><rect x="327" y="700.6" width="545.5" height="11.6" fill="url(#barG)"/><path d="M327,701.0H872.5" stroke="#5d5339" stroke-width="1" fill="none"/><path d="M327,711.9000000000001H872.5" stroke="#474238" stroke-width="1.5" fill="none"/><path d="M872.0,700.6V712.2" stroke="#544a36" stroke-width="1.2" fill="none"/><path d="M327.5,700.6V712.2" stroke="#5d5339" stroke-width="1.1" fill="none"/></g>
<g><rect x="997.9" y="700.6" width="110.1" height="11.6" fill="url(#barG)"/><path d="M997.9,701.0H1108" stroke="#5d5339" stroke-width="1" fill="none"/><path d="M997.9,711.9000000000001H1108" stroke="#474238" stroke-width="1.5" fill="none"/><path d="M1107.5,700.6V712.2" stroke="#544a36" stroke-width="1.2" fill="none"/><path d="M998.4,700.6V712.2" stroke="#5d5339" stroke-width="1.1" fill="none"/></g>
<text x="877" y="112.2" font-size="14.8" fill="#1c1c1c" stroke="#1c1c1c" stroke-width="0.3" textLength="117.9" lengthAdjust="spacingAndGlyphs">Avemetatarsalia</text>
<text x="641" y="137.0" font-size="14.8" fill="#1c1c1c" stroke="#1c1c1c" stroke-width="0.3" textLength="120.6" lengthAdjust="spacingAndGlyphs">Ornithosuchidae</text>
<text x="644" y="160.4" font-size="14.8" fill="#1c1c1c" stroke="#1c1c1c" stroke-width="0.3" textLength="114.4" lengthAdjust="spacingAndGlyphs">Erpetosuchidae</text>
<text x="643.6" y="183.6" font-size="14.8" font-style="italic" fill="#1c1c1c" stroke="#1c1c1c" stroke-width="0.3" textLength="191.4" lengthAdjust="spacingAndGlyphs">Revueltosaurus callenderi</text>
<text x="858.4" y="209.0" font-size="14.8" fill="#1c1c1c" stroke="#1c1c1c" stroke-width="0.3" textLength="78.6" lengthAdjust="spacingAndGlyphs">Aetosauria</text>
<text x="416" y="229.6" font-size="14.8" font-style="italic" fill="#1c1c1c" stroke="#1c1c1c" stroke-width="0.3" textLength="199.6" lengthAdjust="spacingAndGlyphs">Nundasuchus songeaensis</text>
<text x="440" y="256.0" font-size="14.8" fill="#1c1c1c" stroke="#1c1c1c" stroke-width="0.3" textLength="112.8" lengthAdjust="spacingAndGlyphs">Gracilisuchidae</text>
<text x="363" y="279.2" font-size="14.8" font-style="italic" fill="#1c1c1c" stroke="#1c1c1c" stroke-width="0.3" textLength="137.0" lengthAdjust="spacingAndGlyphs">Ticinosuchus ferox</text>
<text x="412" y="303.7" font-size="14.8" font-style="italic" fill="#1c1c1c" stroke="#1c1c1c" stroke-width="0.3" textLength="162.3" lengthAdjust="spacingAndGlyphs">Mambawakale ruhuhu</text>
<text x="335.6" y="329.1" font-size="14.8" font-style="italic" fill="#1c1c1c" stroke="#1c1c1c" stroke-width="0.3" textLength="259.9" lengthAdjust="spacingAndGlyphs">Benggwigwishingasuchus eremicar</text>
<text x="400" y="350.3" font-size="14.8" font-style="italic" fill="#C42F3A" stroke="#C42F3A" stroke-width="0.3" textLength="183.0" lengthAdjust="spacingAndGlyphs">Tainrakuasuchus bellator</text>
<text x="409.6" y="373.4" font-size="14.8" font-style="italic" fill="#1c1c1c" stroke="#1c1c1c" stroke-width="0.3" textLength="193.6" lengthAdjust="spacingAndGlyphs">Mandasuchus tanyauchen</text>
<text x="398" y="398.0" font-size="14.8" font-style="italic" fill="#1c1c1c" stroke="#1c1c1c" stroke-width="0.3" textLength="172.5" lengthAdjust="spacingAndGlyphs">Schultzsuchus loricatus</text>
<text x="267" y="418.6" font-size="14.8" font-style="italic" fill="#1c1c1c" stroke="#1c1c1c" stroke-width="0.3" textLength="182.6" lengthAdjust="spacingAndGlyphs">Xilousuchus sapingensis</text>
<text x="332" y="443.0" font-size="14.8" font-style="italic" fill="#1c1c1c" stroke="#1c1c1c" stroke-width="0.3" textLength="163.0" lengthAdjust="spacingAndGlyphs">Arizonasaurus babbitti</text>
<text x="333.6" y="468.0" font-size="14.8" font-style="italic" fill="#1c1c1c" stroke="#1c1c1c" stroke-width="0.3" textLength="148.8" lengthAdjust="spacingAndGlyphs">Qianosuchus mixtus</text>
<text x="642.3" y="496.2" font-size="14.8" font-style="italic" fill="#1c1c1c" stroke="#1c1c1c" stroke-width="0.3" textLength="144.7" lengthAdjust="spacingAndGlyphs">Poposaurus gracilis</text>
<text x="400" y="519.0" font-size="14.8" font-style="italic" fill="#1c1c1c" stroke="#1c1c1c" stroke-width="0.3" textLength="146.0" lengthAdjust="spacingAndGlyphs">Lotosaurus adentus</text>
<text x="526.2" y="545.4" font-size="14.8" font-style="italic" fill="#1c1c1c" stroke="#1c1c1c" stroke-width="0.3" textLength="166.6" lengthAdjust="spacingAndGlyphs">Sillosuchus longicervix</text>
<text x="768.4" y="567.7" font-size="14.8" font-style="italic" fill="#1c1c1c" stroke="#1c1c1c" stroke-width="0.3" textLength="195.6" lengthAdjust="spacingAndGlyphs">Shuvosaurus inexpectatus</text>
<text x="856.6" y="594.1" font-size="14.8" font-style="italic" fill="#1c1c1c" stroke="#1c1c1c" stroke-width="0.3" textLength="123.9" lengthAdjust="spacingAndGlyphs">Effigia okeeffeae</text>
<text x="414.4" y="616.1" font-size="14.8" font-style="italic" fill="#1c1c1c" stroke="#1c1c1c" stroke-width="0.3" textLength="192.1" lengthAdjust="spacingAndGlyphs">Stagonosuchus nyassicus</text>
<text x="399" y="639.8" font-size="14.8" font-style="italic" fill="#1c1c1c" stroke="#1c1c1c" stroke-width="0.3" textLength="196.5" lengthAdjust="spacingAndGlyphs">Prestosuchus chiniquensis</text>
<text x="413.6" y="662.3" font-size="14.8" font-style="italic" fill="#1c1c1c" stroke="#1c1c1c" stroke-width="0.3" textLength="158.8" lengthAdjust="spacingAndGlyphs">Luperosuchus fractus</text>
<text x="526.2" y="685.4" font-size="14.8" font-style="italic" fill="#1c1c1c" stroke="#1c1c1c" stroke-width="0.3" textLength="142.9" lengthAdjust="spacingAndGlyphs">Saurosuchus galilei</text>
<text x="877" y="711.7" font-size="14.8" fill="#1c1c1c" stroke="#1c1c1c" stroke-width="0.3" textLength="114.0" lengthAdjust="spacingAndGlyphs">other loricatans</text>
<text x="240" y="670.2" font-size="13.2" fill="#1c1c1c" stroke="#1c1c1c" stroke-width="0.3" textLength="49.6" lengthAdjust="spacingAndGlyphs">Loricata</text>
<text transform="translate(100.6,102.9) scale(1.02,1) rotate(90)" x="0" y="0" font-size="14" fill="#1c1c1c" stroke="#1c1c1c" stroke-width="0.25" textLength="73.8" lengthAdjust="spacingAndGlyphs">Archosauria</text>
<text transform="translate(119.2,177.9) scale(1.02,1) rotate(90)" x="0" y="0" font-size="14" fill="#1c1c1c" stroke="#1c1c1c" stroke-width="0.25" textLength="86.7" lengthAdjust="spacingAndGlyphs">Pseudosuchia</text>
<text transform="translate(176.6,434.4) scale(1.02,1) rotate(90)" x="0" y="0" font-size="14" fill="#1c1c1c" stroke="#1c1c1c" stroke-width="0.25" textLength="136.6" lengthAdjust="spacingAndGlyphs">Paracrocodylomorpha</text>
<circle cx="451" cy="191" r="7.3" fill="#F3C9CB" opacity="0.55"/><circle cx="451" cy="191" r="6.8" fill="#B4262E"/><circle cx="451" cy="191" r="4.6" fill="#C9474E" opacity="0.55" filter="url(#soft)"/><text x="451" y="194.9" font-size="11" font-weight="bold" fill="#FBE4E4" text-anchor="middle">3</text>
<circle cx="306.8" cy="512.8" r="7.3" fill="#F3C9CB" opacity="0.55"/><circle cx="306.8" cy="512.8" r="6.8" fill="#B4262E"/><circle cx="306.8" cy="512.8" r="4.6" fill="#C9474E" opacity="0.55" filter="url(#soft)"/><text x="306.8" y="516.6999999999999" font-size="11" font-weight="bold" fill="#FBE4E4" text-anchor="middle">2</text>
<circle cx="320.8" cy="534.4" r="7.3" fill="#F3C9CB" opacity="0.55"/><circle cx="320.8" cy="534.4" r="6.8" fill="#B4262E"/><circle cx="320.8" cy="534.4" r="4.6" fill="#C9474E" opacity="0.55" filter="url(#soft)"/><text x="320.8" y="538.3" font-size="11" font-weight="bold" fill="#FBE4E4" text-anchor="middle">3</text>
<circle cx="453.6" cy="556.8" r="7.3" fill="#F3C9CB" opacity="0.55"/><circle cx="453.6" cy="556.8" r="6.8" fill="#B4262E"/><circle cx="453.6" cy="556.8" r="4.6" fill="#C9474E" opacity="0.55" filter="url(#soft)"/><text x="453.6" y="560.6999999999999" font-size="11" font-weight="bold" fill="#FBE4E4" text-anchor="middle">4</text>
<circle cx="509.6" cy="576" r="7.3" fill="#F3C9CB" opacity="0.55"/><circle cx="509.6" cy="576" r="6.8" fill="#B4262E"/><circle cx="509.6" cy="576" r="4.6" fill="#C9474E" opacity="0.55" filter="url(#soft)"/><text x="509.6" y="579.9" font-size="11" font-weight="bold" fill="#FBE4E4" text-anchor="middle">7</text>
<path d="M1001.5,121.5 C1002.0,121.0 1003.7,120.0 1005.0,119.5 C1006.3,119.0 1008.5,118.5 1010.0,118.5 C1011.5,118.5 1013.6,118.8 1015.0,119.2 C1016.4,119.7 1017.8,120.6 1019.0,121.5 C1020.2,122.4 1021.5,124.5 1023.0,125.0 C1024.5,125.5 1026.5,124.7 1029.0,124.5 C1031.5,124.3 1036.7,123.7 1040.0,123.5 C1043.3,123.3 1048.5,122.8 1051.0,123.0 C1053.5,123.2 1054.9,124.0 1057.0,124.5 C1059.1,125.0 1062.3,126.0 1065.0,126.5 C1067.7,127.0 1072.0,127.5 1075.0,128.0 C1078.0,128.4 1082.3,129.0 1085.0,129.5 C1087.7,130.0 1090.6,130.7 1093.0,131.5 C1095.4,132.3 1100.0,134.4 1101.0,135.0 C1102.0,135.6 1101.5,135.8 1100.0,135.5 C1098.5,135.2 1094.0,133.6 1091.0,133.0 C1088.0,132.4 1083.3,131.7 1080.0,131.5 C1076.7,131.3 1072.2,131.5 1069.0,131.5 C1065.8,131.5 1061.5,131.2 1059.0,131.5 C1056.5,131.8 1052.9,131.9 1052.0,133.2 C1051.1,134.5 1052.4,137.9 1053.0,140.0 C1053.6,142.1 1055.1,145.1 1056.0,147.0 C1056.9,148.9 1058.6,151.8 1058.8,153.0 C1059.0,154.2 1058.1,155.0 1057.5,155.2 C1056.9,155.4 1055.5,155.3 1054.8,154.5 C1054.1,153.7 1053.7,151.7 1052.8,150.0 C1051.9,148.3 1050.1,144.7 1049.0,143.0 C1047.9,141.3 1046.4,139.3 1045.5,138.5 C1044.6,137.7 1043.2,136.8 1043.0,137.5 C1042.8,138.2 1044.0,141.4 1044.2,143.0 C1044.4,144.6 1044.8,146.5 1044.5,148.0 C1044.2,149.5 1043.0,152.0 1042.0,153.0 C1041.0,154.0 1038.7,154.6 1038.0,154.7 C1037.3,154.8 1037.1,154.2 1037.5,153.5 C1037.9,152.8 1040.0,151.3 1040.5,150.0 C1041.0,148.7 1041.0,146.5 1040.8,145.0 C1040.6,143.5 1039.5,141.0 1039.0,140.0 C1038.5,139.0 1038.2,138.5 1037.8,138.5 C1037.4,138.5 1036.8,138.6 1036.6,140.0 C1036.4,141.4 1036.6,145.9 1036.5,148.0 C1036.4,150.1 1036.4,153.1 1036.0,154.2 C1035.6,155.2 1034.4,155.6 1034.0,155.0 C1033.6,154.4 1033.5,151.9 1033.5,150.0 C1033.5,148.1 1034.0,143.8 1034.0,142.0 C1034.0,140.2 1033.9,139.1 1033.2,138.2 C1032.5,137.3 1030.4,136.1 1029.5,136.2 C1028.6,136.3 1028.2,137.7 1027.5,139.0 C1026.8,140.3 1026.0,143.1 1025.0,145.0 C1024.0,146.9 1021.9,150.5 1021.0,152.0 C1020.1,153.5 1019.5,154.5 1019.0,154.7 C1018.5,154.9 1017.7,154.6 1018.0,153.6 C1018.3,152.6 1020.3,149.9 1021.2,148.0 C1022.1,146.1 1023.3,142.7 1023.8,141.0 C1024.3,139.3 1024.8,138.0 1024.8,137.0 C1024.8,136.0 1024.2,135.6 1023.5,134.5 C1022.8,133.4 1021.3,131.4 1020.0,130.0 C1018.7,128.6 1016.5,126.0 1015.0,125.0 C1013.5,124.0 1011.5,123.3 1010.0,123.0 C1008.5,122.7 1006.3,123.1 1005.0,123.0 C1003.7,122.9 1002.0,122.7 1001.5,122.5 C1001.0,122.3 1001.0,122.0 1001.5,121.5Z" fill="#B7313A"/>
<path d="M764.6,141.5 C764.9,140.9 765.8,139.8 766.9,139.2 C768.1,138.6 771.5,137.3 773.3,136.9 C775.2,136.5 778.2,136.0 780.7,136.0 C783.1,136.0 789.3,137.1 791.7,136.9 C794.0,136.7 796.4,135.1 798.1,134.6 C799.8,134.2 802.7,133.5 804.5,133.4 C806.3,133.4 809.9,133.7 811.8,134.2 C813.8,134.6 817.3,135.9 819.2,136.9 C821.0,137.9 824.0,140.3 825.6,141.5 C827.2,142.7 829.5,144.8 831.1,145.6 C832.7,146.4 835.7,147.3 837.5,147.5 C839.3,147.6 842.9,147.2 844.8,147.0 C846.7,146.8 851.0,146.0 851.7,146.1 C852.4,146.1 851.5,147.0 850.3,147.5 C849.2,147.9 844.9,148.9 843.0,149.3 C841.0,149.7 837.6,150.3 835.7,150.2 C833.7,150.1 830.2,149.4 828.3,148.8 C826.5,148.3 823.2,146.6 821.9,146.3 C820.6,145.9 819.0,145.9 818.4,146.3 C817.8,146.6 817.5,147.6 817.5,148.8 C817.5,150.0 818.1,153.7 818.2,155.2 C818.4,156.8 819.4,159.8 818.8,160.6 C818.2,161.3 814.5,161.1 813.7,160.9 C812.9,160.8 812.6,159.9 812.7,159.6 C812.9,159.2 814.8,158.9 815.0,158.0 C815.3,157.1 815.0,153.7 814.6,152.5 C814.2,151.3 812.7,149.6 812.0,149.0 C811.3,148.4 809.7,147.9 809.1,148.1 C808.4,148.3 807.7,149.6 807.2,150.7 C806.8,151.7 806.1,154.9 805.4,156.2 C804.7,157.5 803.1,159.8 801.7,160.5 C800.4,161.1 796.1,161.1 795.3,160.9 C794.6,160.8 795.5,159.9 796.2,159.5 C797.0,159.1 800.0,158.9 800.8,158.0 C801.7,157.1 802.5,153.7 802.7,152.5 C802.8,151.3 802.6,149.4 801.7,149.0 C800.9,148.6 797.3,149.3 796.2,149.4 C795.2,149.5 793.8,149.3 793.7,149.9 C793.6,150.6 795.4,153.1 795.3,154.3 C795.3,155.6 794.4,158.2 793.5,159.1 C792.6,160.0 789.8,161.2 788.9,161.4 C788.1,161.6 786.8,160.8 787.1,160.4 C787.4,159.9 790.6,158.9 791.2,158.0 C791.8,157.1 791.8,154.4 791.7,153.4 C791.5,152.5 790.4,151.1 789.8,150.8 C789.3,150.6 788.1,151.1 787.6,151.8 C787.1,152.5 786.7,155.0 786.2,156.2 C785.6,157.3 784.3,159.8 783.4,160.5 C782.5,161.1 779.7,161.1 779.3,160.9 C778.9,160.8 779.6,160.0 780.2,159.5 C780.8,159.0 783.2,158.1 783.9,157.1 C784.5,156.1 785.2,152.8 785.2,151.8 C785.3,150.7 785.2,149.9 784.3,149.4 C783.5,148.8 780.2,147.8 778.8,147.5 C777.4,147.3 774.8,147.0 773.8,147.2 C772.8,147.4 772.3,148.5 771.5,149.0 C770.7,149.5 768.5,150.8 767.8,150.8 C767.2,150.9 766.4,149.8 766.7,149.4 C767.0,148.9 769.4,148.1 770.1,147.5 C770.9,147.0 772.4,145.8 772.4,145.3 C772.5,144.9 771.2,144.3 770.6,144.2 C770.0,144.2 768.6,144.9 767.8,144.8 C767.1,144.7 765.5,144.0 765.1,143.5 C764.7,143.1 764.4,142.1 764.6,141.5Z" fill="#B7313A"/>
<path d="M519.2,269.3 C519.4,268.7 520.8,266.9 521.9,266.1 C523.0,265.3 525.5,263.8 527.3,263.4 C529.2,262.9 533.8,262.7 536.0,262.8 C538.2,263.0 541.3,264.5 543.6,264.5 C545.9,264.4 550.9,262.8 553.3,262.3 C555.8,261.8 559.7,260.7 562.0,260.5 C564.3,260.2 568.4,260.3 570.7,260.7 C573.0,261.0 576.7,262.0 579.3,262.8 C581.9,263.6 587.0,265.5 590.2,266.6 C593.4,267.7 599.7,269.9 603.2,271.0 C606.6,272.0 612.7,273.5 616.2,274.2 C619.6,274.9 628.0,275.7 629.2,276.1 C630.3,276.4 627.2,276.8 624.8,276.7 C622.5,276.6 615.3,275.8 611.8,275.3 C608.4,274.8 602.0,273.6 598.8,273.1 C595.7,272.6 590.5,271.7 588.0,271.5 C585.5,271.3 580.9,271.1 579.9,271.7 C578.9,272.3 580.1,274.4 580.6,275.8 C581.2,277.3 583.6,280.9 583.9,282.3 C584.2,283.8 583.7,286.3 582.8,286.9 C581.9,287.5 577.6,287.3 577.2,286.9 C576.7,286.5 579.1,284.9 579.3,284.0 C579.6,283.1 579.9,281.4 579.3,280.2 C578.8,279.0 575.9,276.0 575.0,275.0 C574.1,274.0 574.2,273.0 572.8,272.8 C571.5,272.6 565.7,272.5 564.7,273.2 C563.7,273.9 565.2,276.6 565.5,278.0 C565.7,279.4 567.5,282.7 566.6,283.6 C565.7,284.5 559.9,284.7 558.8,284.7 C557.6,284.7 557.2,283.8 557.7,283.4 C558.2,283.0 562.0,282.7 562.5,281.8 C563.1,280.9 562.2,278.0 562.0,276.9 C561.8,275.9 561.6,274.3 560.9,273.9 C560.2,273.5 557.5,273.2 556.8,273.9 C556.1,274.6 556.1,277.7 555.5,279.1 C554.9,280.5 553.3,283.4 552.3,284.5 C551.2,285.6 549.0,287.1 547.9,287.4 C546.9,287.7 544.4,287.4 544.5,286.9 C544.5,286.4 547.7,284.6 548.5,283.4 C549.2,282.2 550.0,279.2 550.1,278.0 C550.2,276.8 550.0,275.2 549.0,274.4 C548.0,273.6 544.5,272.5 542.5,272.2 C540.5,271.8 536.0,271.7 533.8,271.6 C531.7,271.5 528.0,271.7 526.3,271.6 C524.5,271.5 521.8,271.4 520.8,271.1 C519.9,270.8 519.1,270.0 519.2,269.3Z" fill="#B7313A"/>
<path d="M495.3,453.0 C495.4,452.4 495.6,451.4 497.3,451.0 C499.0,450.6 504.8,449.8 508.0,449.7 C511.2,449.5 518.4,449.8 521.3,449.7 C524.3,449.5 528.4,449.5 530.0,448.3 C531.6,447.2 532.3,442.9 533.3,441.0 C534.4,439.1 536.6,435.6 538.0,434.3 C539.4,433.1 542.3,431.8 544.0,431.4 C545.7,431.0 548.9,431.2 550.7,431.7 C552.4,432.1 555.8,433.4 557.3,434.6 C558.8,435.8 560.8,439.3 562.0,441.0 C563.2,442.7 565.0,446.4 566.7,447.7 C568.4,448.9 572.0,449.7 574.7,450.3 C577.3,451.0 583.1,452.0 586.7,452.3 C590.2,452.7 597.4,452.9 601.3,453.0 C605.2,453.1 612.4,452.7 616.0,453.0 C619.6,453.3 624.9,454.1 628.0,455.0 C631.1,455.9 637.9,458.9 639.3,459.7 C640.8,460.4 640.4,461.0 638.7,460.7 C637.0,460.5 630.0,458.2 626.7,457.7 C623.3,457.1 616.9,456.5 613.3,456.5 C609.8,456.4 603.6,457.0 600.0,457.1 C596.4,457.3 590.0,457.6 586.7,457.8 C583.3,458.0 577.1,458.0 574.7,458.5 C572.2,459.0 569.3,460.6 568.3,461.7 C567.2,462.7 566.3,465.1 566.9,466.3 C567.6,467.6 572.3,470.1 573.3,471.0 C574.4,471.9 575.2,472.5 574.9,473.3 C574.7,474.0 572.4,476.3 571.5,476.6 C570.5,476.9 568.3,476.4 568.0,475.8 C567.7,475.2 570.0,473.4 569.3,472.5 C568.6,471.5 563.9,469.6 562.7,468.5 C561.4,467.3 560.7,464.4 560.0,463.9 C559.3,463.5 557.9,464.4 557.3,465.3 C556.8,466.1 556.4,468.9 556.0,470.3 C555.6,471.8 556.1,475.1 554.7,475.9 C553.2,476.8 546.7,476.7 545.3,476.6 C544.0,476.5 544.0,475.7 544.7,475.1 C545.4,474.6 549.9,473.6 550.7,472.5 C551.5,471.3 551.0,467.6 550.7,466.3 C550.3,465.0 549.6,463.1 548.0,462.6 C546.4,462.1 540.3,462.1 538.7,462.6 C537.1,463.1 536.7,465.1 536.0,466.3 C535.3,467.5 534.2,470.4 533.3,471.7 C532.4,472.9 531.0,475.1 529.3,475.7 C527.6,476.2 521.7,476.1 520.7,475.9 C519.6,475.7 520.4,474.8 521.3,474.2 C522.2,473.6 526.4,472.9 527.3,471.7 C528.3,470.4 528.8,466.5 528.7,465.0 C528.6,463.5 528.2,461.2 526.7,460.5 C525.2,459.8 519.8,459.9 517.3,459.8 C514.8,459.7 510.1,460.1 508.0,460.1 C505.9,460.1 502.8,459.9 501.3,459.8 C499.8,459.7 497.4,459.4 496.7,459.1 C496.0,458.9 495.2,458.1 496.0,457.8 C496.8,457.5 501.6,457.4 502.7,457.1 C503.7,456.9 504.8,456.3 504.0,456.1 C503.2,455.8 497.8,455.8 496.7,455.4 C495.5,455.0 495.2,453.6 495.3,453.0Z" fill="#B7313A"/>
<path d="M960.6,541.9 C961.0,541.5 962.5,540.1 963.8,539.8 C965.0,539.4 968.3,538.9 970.0,539.0 C971.7,539.1 974.8,539.9 976.2,540.6 C977.8,541.3 979.9,543.3 981.2,544.4 C982.6,545.5 984.9,547.8 986.2,548.8 C987.6,549.8 989.1,551.5 991.2,551.9 C993.4,552.3 999.3,551.7 1002.5,551.9 C1005.7,552.0 1011.7,552.6 1015.0,553.1 C1018.3,553.6 1024.2,555.3 1027.5,555.6 C1030.8,556.0 1036.7,555.8 1040.0,555.6 C1043.3,555.5 1049.5,554.5 1052.5,554.4 C1055.5,554.3 1059.8,554.6 1062.5,555.0 C1065.2,555.4 1069.8,556.8 1072.5,557.5 C1075.2,558.2 1080.2,559.8 1082.5,560.6 C1084.8,561.5 1088.7,563.5 1089.4,564.0 C1090.0,564.5 1089.1,564.9 1087.5,564.5 C1085.9,564.1 1080.2,562.0 1077.5,561.4 C1074.8,560.7 1070.2,559.8 1067.5,559.5 C1064.8,559.2 1060.2,559.2 1057.5,559.5 C1054.8,559.8 1050.2,560.9 1047.5,561.4 C1044.8,561.9 1040.0,562.9 1037.5,563.2 C1035.0,563.6 1030.3,563.5 1029.0,563.9 C1027.7,564.3 1027.6,565.1 1027.8,566.2 C1027.9,567.4 1029.5,570.7 1030.2,572.5 C1031.0,574.3 1032.9,578.5 1033.4,580.0 C1033.9,581.5 1034.5,583.4 1034.0,584.0 C1033.5,584.6 1030.4,584.6 1030.0,584.2 C1029.6,583.9 1031.6,582.6 1031.2,581.2 C1030.9,579.9 1028.5,575.6 1027.5,573.8 C1026.5,571.9 1024.6,568.7 1023.8,567.5 C1022.9,566.3 1022.2,564.9 1021.2,564.6 C1020.3,564.3 1017.5,564.4 1016.5,565.1 C1015.5,565.8 1014.2,568.5 1014.0,570.0 C1013.8,571.5 1015.3,574.9 1014.6,576.2 C1014.0,577.6 1009.9,579.0 1009.0,580.0 C1008.1,581.0 1008.1,583.8 1007.8,584.0 C1007.4,584.2 1006.4,582.2 1006.2,581.5 C1006.1,580.8 1006.2,579.5 1006.9,578.8 C1007.5,578.0 1010.8,577.0 1011.2,575.6 C1011.7,574.3 1010.3,570.3 1010.0,568.8 C1009.7,567.2 1009.8,564.7 1008.8,564.0 C1007.8,563.3 1003.7,563.0 1002.5,563.2 C1001.3,563.5 1000.8,565.2 1000.0,565.8 C999.2,566.3 997.1,567.0 996.5,567.6 C995.9,568.2 996.1,570.2 995.8,570.2 C995.4,570.3 994.3,568.6 993.8,568.2 C993.2,567.9 991.8,567.9 991.8,567.6 C991.8,567.4 992.9,566.7 993.8,566.2 C994.6,565.8 997.8,565.1 998.1,564.5 C998.5,563.9 997.3,562.4 996.2,561.4 C995.2,560.4 991.5,558.2 990.0,557.0 C988.5,555.8 986.3,553.2 985.0,552.0 C983.7,550.8 981.3,548.5 980.0,547.6 C978.7,546.7 976.5,545.5 975.0,545.1 C973.5,544.7 970.4,544.5 968.8,544.5 C967.1,544.5 963.4,545.0 962.5,544.9 C961.6,544.8 961.4,543.9 961.9,543.6 C962.4,543.3 966.3,542.8 966.2,542.6 C966.2,542.5 962.0,542.7 961.2,542.6 C960.5,542.5 960.3,542.3 960.6,541.9Z" fill="#B7313A"/>
<path d="M603.2,642.5 C603.4,641.7 604.0,639.7 605.5,638.7 C607.0,637.7 611.5,635.9 614.5,635.0 C617.5,634.1 624.2,632.8 628.0,632.0 C631.8,631.2 639.0,629.9 643.0,629.3 C647.0,628.7 654.0,627.7 658.0,627.5 C662.0,627.3 669.0,627.3 673.0,627.5 C677.0,627.7 684.0,628.2 688.0,628.7 C692.0,629.2 699.0,630.4 703.0,631.2 C707.0,632.1 714.0,633.8 718.0,635.0 C722.0,636.2 729.0,638.6 733.0,640.2 C737.0,641.8 743.7,645.0 748.0,647.0 C752.3,649.0 763.2,654.0 765.2,655.2 C767.2,656.5 765.7,656.7 763.0,656.1 C760.3,655.6 749.4,652.1 745.0,650.9 C740.6,649.7 734.0,647.8 730.0,647.1 C726.0,646.4 719.0,645.8 715.0,645.6 C711.0,645.4 703.4,645.4 700.0,645.6 C696.6,645.8 691.8,646.6 689.8,647.1 C687.8,647.7 685.1,648.9 685.3,650.0 C685.5,651.1 690.6,653.2 691.3,655.2 C692.0,657.3 691.6,663.7 690.5,665.3 C689.5,666.9 684.5,667.6 683.5,667.5 C682.5,667.5 682.3,665.8 682.7,665.1 C683.1,664.5 686.0,663.9 686.5,662.9 C687.0,661.9 687.9,658.9 686.5,657.5 C685.1,656.1 678.0,653.3 676.0,652.4 C674.0,651.5 672.3,650.4 671.5,650.9 C670.7,651.4 670.0,654.3 670.0,656.0 C670.0,657.7 673.0,662.4 671.8,663.8 C670.6,665.2 662.7,666.6 661.0,666.8 C659.3,667.0 658.1,665.8 658.7,665.1 C659.3,664.5 664.7,663.4 665.5,662.0 C666.3,660.6 665.1,655.9 664.7,654.5 C664.3,653.1 663.8,651.9 662.5,651.6 C661.2,651.4 656.4,651.8 655.0,652.4 C653.6,653.0 652.3,654.5 652.0,656.0 C651.7,657.5 652.3,662.3 652.7,663.5 C653.2,664.7 654.9,664.7 655.1,665.1 C655.4,665.6 655.2,667.0 654.4,667.1 C653.6,667.2 649.9,667.3 649.0,666.0 C648.1,664.8 648.0,658.8 647.5,657.5 C647.0,656.2 645.8,655.3 645.2,656.1 C644.6,656.9 644.3,661.9 643.0,663.5 C641.7,665.1 636.8,667.6 635.5,668.0 C634.2,668.4 632.9,667.4 633.5,666.6 C634.1,665.8 638.8,663.8 640.0,662.0 C641.2,660.2 642.2,654.8 642.2,653.0 C642.2,651.2 641.5,649.5 640.0,648.6 C638.5,647.8 633.0,646.6 631.0,646.4 C629.0,646.2 626.2,646.9 625.0,647.1 C623.8,647.3 624.2,647.4 622.0,647.9 C619.8,648.4 610.6,650.7 608.5,650.9 C606.4,651.1 605.3,650.0 606.1,649.4 C606.9,648.8 613.2,647.1 614.5,646.4 C615.8,645.7 616.6,644.3 616.0,644.1 C615.4,643.9 611.6,644.8 610.0,644.9 C608.4,645.0 604.9,645.2 604.0,644.9 C603.1,644.6 603.0,643.3 603.2,642.5Z" fill="#B7313A"/>
<path d="M932.9,678.7 C932.8,678.2 935.6,677.5 936.9,677.2 C938.1,676.8 940.6,677.0 942.4,676.4 C944.2,675.7 947.6,673.3 950.3,672.4 C953.1,671.6 959.4,670.8 963.0,670.0 C966.6,669.3 973.4,667.5 977.2,666.9 C981.0,666.2 987.9,665.4 991.5,665.3 C995.1,665.2 1000.8,665.7 1004.2,666.1 C1007.5,666.5 1013.5,667.5 1016.8,668.5 C1020.2,669.4 1026.1,671.9 1029.5,673.2 C1032.9,674.5 1038.8,676.9 1042.2,678.0 C1045.5,679.0 1051.5,680.4 1054.8,681.1 C1058.2,681.9 1064.1,682.9 1067.5,683.5 C1070.9,684.1 1077.0,685.1 1080.2,685.9 C1083.3,686.6 1088.3,688.0 1091.2,689.0 C1094.2,690.1 1102.3,693.1 1102.3,693.8 C1102.3,694.5 1094.8,694.4 1091.2,694.4 C1087.7,694.4 1079.6,694.1 1075.4,693.9 C1071.2,693.8 1063.6,693.6 1059.6,693.2 C1055.6,692.7 1048.7,691.5 1045.3,690.8 C1042.0,690.0 1036.3,688.1 1034.2,687.6 C1032.2,687.1 1030.2,686.4 1029.8,686.8 C1029.4,687.2 1031.8,689.7 1031.4,690.8 C1031.0,691.9 1028.0,694.3 1026.6,694.9 C1025.3,695.4 1021.7,695.4 1021.6,694.9 C1021.4,694.3 1025.7,692.0 1025.5,690.8 C1025.3,689.6 1021.6,686.8 1020.0,686.0 C1018.4,685.3 1014.8,684.8 1013.7,685.2 C1012.5,685.7 1011.6,687.9 1011.4,689.2 C1011.3,690.5 1014.0,694.0 1012.4,694.9 C1010.8,695.8 1001.3,696.2 999.4,696.2 C997.6,696.1 997.5,695.2 998.5,694.7 C999.4,694.2 1005.6,693.4 1006.5,692.4 C1007.5,691.3 1006.5,687.9 1005.7,686.8 C1005.0,685.8 1002.9,684.7 1001.0,684.4 C999.1,684.2 993.8,685.0 991.5,685.2 C989.2,685.5 985.2,685.5 983.9,686.0 C982.5,686.6 981.2,688.1 981.4,689.2 C981.6,690.3 985.0,693.0 985.3,693.9 C985.6,694.9 984.5,696.3 983.7,696.2 C983.0,696.1 980.5,693.9 979.6,693.2 C978.8,692.4 977.8,690.6 977.2,690.8 C976.7,691.0 977.1,694.0 975.8,694.7 C974.6,695.5 969.1,696.4 967.7,696.5 C966.4,696.5 965.5,695.6 966.0,695.1 C966.5,694.5 970.6,693.5 971.7,692.4 C972.8,691.3 974.2,687.9 974.1,686.8 C974.0,685.8 972.4,684.8 970.9,684.4 C969.4,684.1 965.3,684.6 963.0,684.4 C960.7,684.3 956.0,684.0 953.5,683.7 C951.0,683.3 946.1,682.4 944.0,682.1 C941.9,681.8 939.1,681.7 937.7,681.3 C936.2,680.8 933.0,679.3 932.9,678.7Z" fill="#B7313A"/>
<path d="M584.5,298.7 H1102.2" stroke="#2f2f2f" stroke-width="1.5" fill="none"/>
<path d="M1102.2,298 V588.2" stroke="#2f2f2f" stroke-width="2" fill="none"/>
<path d="M994.2,587.5 H1103" stroke="#2f2f2f" stroke-width="2" fill="none"/>
<path d="M1104,301 V589.6 H996" stroke="#777" stroke-width="1.2" fill="none" opacity="0.45"/>
<defs>
<clipPath id="cBody"><path d="M732.4,302.0 C732.6,299.2 732.3,299.5 733.4,298.0 C734.5,296.5 736.9,294.7 738.9,292.9 C740.9,291.1 743.1,289.2 745.4,287.3 C747.7,285.4 750.1,283.2 752.9,281.7 C755.7,280.2 758.7,279.2 762.1,278.4 C765.5,277.6 769.6,277.6 773.3,277.1 C777.0,276.6 781.0,275.8 784.4,275.2 C787.8,274.6 790.9,273.2 793.7,273.4 C796.5,273.5 798.6,274.9 801.1,276.1 C803.6,277.3 805.7,279.4 808.5,280.8 C811.3,282.2 815.0,282.8 817.8,284.5 C820.6,286.2 822.8,288.8 825.3,291.0 C827.8,293.2 830.5,295.6 832.7,297.5 C834.9,299.4 836.1,300.1 838.3,302.1 C840.5,304.1 842.9,307.0 845.7,309.6 C848.5,312.2 851.8,315.6 855.0,317.9 C858.2,320.2 861.2,322.3 865.0,323.6 C868.8,324.9 873.5,325.3 878.0,325.6 C882.5,325.9 887.5,325.3 892.0,325.3 C896.5,325.3 900.4,325.3 905.0,325.6 C909.6,325.9 914.8,326.5 919.5,327.0 C924.2,327.5 928.4,328.0 933.0,328.6 C937.6,329.2 943.0,330.0 947.0,330.8 C951.0,331.6 953.6,332.5 957.0,333.5 C960.4,334.5 964.4,335.9 967.6,337.0 C970.8,338.1 973.1,338.9 976.0,340.0 C978.9,341.1 982.0,341.9 984.7,343.3 C987.4,344.7 989.5,346.5 992.0,348.5 C994.5,350.5 997.2,353.1 999.5,355.5 C1001.8,357.9 1003.9,360.1 1006.0,362.6 C1008.1,365.1 1010.5,368.0 1012.2,370.5 C1014.0,373.0 1015.1,375.0 1016.5,377.5 C1017.9,380.0 1019.3,382.6 1020.7,385.3 C1022.1,388.0 1023.6,390.8 1025.0,393.5 C1026.4,396.2 1027.7,399.1 1029.2,401.6 C1030.7,404.1 1032.2,406.4 1034.0,408.5 C1035.8,410.6 1037.5,412.4 1039.7,414.3 C1042.0,416.2 1044.7,418.2 1047.5,420.0 C1050.3,421.8 1053.5,423.3 1056.7,424.9 C1060.0,426.5 1063.5,428.0 1067.0,429.4 C1070.5,430.8 1074.3,432.2 1077.9,433.4 C1081.5,434.6 1085.0,435.8 1088.5,436.8 C1092.0,437.9 1096.4,438.6 1099.0,439.7 C1101.6,440.8 1103.5,442.1 1104.3,443.4 C1105.1,444.7 1104.8,446.6 1103.6,447.6 C1102.4,448.6 1099.2,449.2 1097.0,449.6 C1094.8,450.0 1093.4,450.0 1090.6,449.8 C1087.8,449.6 1083.5,449.1 1080.0,448.5 C1076.5,447.9 1073.0,447.4 1069.4,446.4 C1065.8,445.4 1062.0,444.1 1058.5,442.6 C1055.0,441.1 1051.1,439.3 1048.2,437.6 C1045.3,435.9 1043.1,434.2 1041.0,432.4 C1038.9,430.6 1037.2,429.0 1035.5,427.0 C1033.8,425.0 1031.8,422.3 1030.5,420.5 C1029.2,418.7 1027.5,414.9 1027.5,416.0 C1027.5,417.1 1029.5,423.4 1030.5,427.0 C1031.5,430.6 1032.4,434.4 1033.4,437.6 C1034.4,440.8 1035.5,443.3 1036.5,446.0 C1037.5,448.7 1038.8,451.5 1039.7,454.0 C1040.6,456.5 1040.8,458.2 1041.9,461.2 C1043.0,464.2 1045.1,468.7 1046.1,471.8 C1047.0,474.9 1047.4,477.9 1047.6,480.0 C1047.8,482.1 1047.5,482.5 1047.2,484.3 C1046.9,486.1 1046.5,490.5 1045.5,491.0 C1044.5,491.5 1042.3,487.2 1041.0,487.5 C1039.7,487.8 1039.1,492.6 1037.5,492.8 C1035.9,493.0 1033.0,488.8 1031.3,488.9 C1029.5,489.0 1028.5,493.3 1027.0,493.2 C1025.5,493.1 1023.7,488.8 1022.0,488.5 C1020.3,488.2 1018.4,491.4 1016.6,491.3 C1014.9,491.2 1012.9,489.3 1011.5,488.0 C1010.1,486.7 1008.9,485.1 1008.3,483.5 C1007.7,481.9 1007.5,480.1 1008.0,478.1 C1008.5,476.1 1010.5,473.6 1011.5,471.5 C1012.5,469.4 1014.0,467.5 1014.3,465.4 C1014.5,463.3 1013.7,461.1 1013.0,459.0 C1012.3,456.9 1011.3,455.2 1010.1,452.7 C1008.9,450.2 1007.4,446.9 1006.0,444.0 C1004.6,441.1 1003.1,438.3 1001.6,435.5 C1000.1,432.7 998.4,429.8 997.0,427.0 C995.6,424.2 994.7,421.1 993.2,418.6 C991.8,416.1 990.3,412.7 988.3,411.8 C986.3,410.9 983.3,412.5 981.0,413.2 C978.7,413.9 977.3,414.7 974.5,415.8 C971.7,416.9 967.5,418.5 964.0,420.0 C960.5,421.5 956.6,423.3 953.2,424.8 C949.8,426.3 947.1,427.7 943.6,428.8 C940.1,429.9 935.9,430.7 932.0,431.5 C928.1,432.3 923.7,433.0 920.0,433.6 C916.3,434.2 913.3,434.9 910.0,435.4 C906.7,435.9 903.7,436.3 900.0,436.4 C896.3,436.5 891.1,436.1 887.8,435.8 C884.5,435.5 882.6,435.1 880.0,434.6 C877.4,434.1 875.1,433.6 872.4,432.9 C869.7,432.2 866.6,431.3 864.0,430.5 C861.4,429.7 859.7,428.8 857.0,428.1 C854.3,427.5 850.8,427.0 848.0,426.6 C845.2,426.2 842.7,426.2 840.0,426.0 C837.3,425.8 834.3,425.9 832.0,425.5 C829.7,425.1 828.0,424.6 826.2,423.3 C824.5,422.0 822.8,419.4 821.5,417.5 C820.2,415.6 819.7,414.0 818.5,411.7 C817.3,409.4 815.8,406.2 814.5,403.5 C813.2,400.8 811.5,398.1 810.8,395.4 C810.0,392.6 810.0,389.3 810.0,387.0 C810.0,384.7 810.5,383.3 810.6,381.5 C810.7,379.7 810.7,378.2 810.4,376.4 C810.1,374.6 809.6,372.4 809.0,370.5 C808.4,368.6 808.6,366.0 806.7,365.3 C804.8,364.6 800.8,365.3 797.4,366.2 C794.0,367.1 789.7,368.8 786.3,370.8 C782.9,372.8 780.4,376.0 777.0,378.3 C773.6,380.6 769.2,383.6 765.8,384.8 C762.4,386.0 759.1,386.0 756.6,385.6 C754.1,385.2 752.1,383.7 751.0,382.3 C749.9,380.9 749.5,378.9 749.8,377.3 C750.1,375.7 751.5,375.1 752.9,372.5 C754.3,369.9 756.9,365.5 758.4,361.5 C759.9,357.5 761.2,352.9 762.1,348.6 C763.0,344.3 764.3,339.0 764.0,335.6 C763.7,332.2 761.8,329.7 760.3,328.1 C758.8,326.6 756.2,325.9 754.7,326.3 C753.2,326.7 752.2,330.8 751.3,330.5 C750.4,330.2 751.0,325.7 749.1,324.4 C747.2,323.1 742.4,323.4 739.9,322.6 C737.4,321.8 735.6,321.1 734.4,319.8 C733.1,318.5 732.7,318.0 732.4,315.0 C732.1,312.0 732.2,304.8 732.4,302.0Z"/></clipPath>
<clipPath id="cLeg"><path d="M893.0,398.0 C889.1,405.1 891.5,410.3 891.6,414.6 C891.7,418.9 892.9,420.8 893.5,424.0 C894.1,427.2 894.6,430.6 895.5,433.9 C896.4,437.1 897.7,440.3 899.0,443.5 C900.3,446.7 902.5,449.9 903.2,453.1 C903.9,456.4 903.3,459.8 903.0,463.0 C902.7,466.2 901.9,469.2 901.3,472.4 C900.7,475.6 900.1,478.8 899.5,482.0 C898.9,485.2 898.4,488.9 897.4,491.6 C896.4,494.4 895.1,496.5 893.5,498.5 C891.9,500.5 890.7,502.2 887.8,503.6 C884.9,505.0 879.3,505.8 876.0,507.0 C872.7,508.2 869.6,509.3 868.0,510.6 C866.4,511.9 866.2,513.4 866.6,514.7 C867.0,516.0 868.9,518.0 870.5,518.2 C872.1,518.4 874.3,515.6 876.0,516.0 C877.7,516.4 878.8,520.6 880.5,520.8 C882.2,521.0 884.2,516.9 886.0,517.0 C887.8,517.1 889.6,521.5 891.5,521.6 C893.4,521.7 895.5,517.5 897.5,517.4 C899.5,517.3 901.5,521.1 903.5,521.0 C905.5,520.9 907.6,517.1 909.5,516.6 C911.4,516.1 913.6,518.6 915.0,518.2 C916.4,517.8 917.4,515.8 918.0,514.4 C918.6,513.0 918.8,511.6 918.6,510.0 C918.4,508.4 916.9,507.0 917.0,505.0 C917.1,503.0 918.7,500.2 919.5,498.0 C920.3,495.8 920.9,494.2 922.0,492.0 C923.1,489.8 924.7,488.0 926.3,484.8 C927.9,481.6 929.6,477.0 931.5,473.0 C933.4,469.0 936.3,464.3 937.8,460.8 C939.3,457.3 939.8,454.9 940.5,452.0 C941.2,449.1 942.0,446.0 942.2,443.5 C942.4,441.0 941.8,439.6 941.5,437.0 C941.2,434.4 939.9,431.7 940.5,428.0 C941.1,424.3 943.8,419.7 945.0,415.0 C946.2,410.3 948.8,405.8 948.0,400.0 C947.2,394.2 945.5,384.7 940.0,380.0 C934.5,375.3 922.8,369.0 915.0,372.0 C907.2,375.0 896.9,390.9 893.0,398.0Z"/></clipPath>
<linearGradient id="bodyG" gradientUnits="userSpaceOnUse" x1="900" y1="320" x2="890" y2="440">
 <stop offset="0" stop-color="#4f5254"/><stop offset="0.3" stop-color="#605e58"/><stop offset="0.65" stop-color="#6c6353"/><stop offset="1" stop-color="#7a6a50"/>
</linearGradient>
<linearGradient id="legG" gradientUnits="userSpaceOnUse" x1="895" y1="0" x2="942" y2="0">
 <stop offset="0" stop-color="#6e6b64"/><stop offset="0.45" stop-color="#85827a"/><stop offset="1" stop-color="#5d5a53"/>
</linearGradient>
<linearGradient id="tailG" gradientUnits="userSpaceOnUse" x1="1020" y1="400" x2="1100" y2="446">
 <stop offset="0" stop-color="#7d6c53" stop-opacity="0"/><stop offset="0.3" stop-color="#927d5f" stop-opacity="0.9"/><stop offset="1" stop-color="#8a7a62" stop-opacity="1"/>
</linearGradient>
<filter id="scales" x="0" y="0" width="100%" height="100%">
 <feTurbulence type="fractalNoise" baseFrequency="0.24 0.42" numOctaves="2" seed="7" result="n"/>
 <feColorMatrix in="n" type="matrix" values="0 0 0 0 0  0 0 0 0 0  0 0 0 0 0  1.9 1.9 0 0 -1.45"/>
</filter>
<filter id="scalesL" x="0" y="0" width="100%" height="100%">
 <feTurbulence type="fractalNoise" baseFrequency="0.24 0.42" numOctaves="2" seed="19" result="n"/>
 <feColorMatrix in="n" type="matrix" values="0 0 0 0 0.86  0 0 0 0 0.87  0 0 0 0 0.86  0 1.9 1.9 0 -1.55"/>
</filter>
</defs>
<path d="M790.0,512.0 C788.0,507.7 794.7,501.2 800.0,497.0 C805.3,492.8 813.7,489.0 822.0,487.0 C830.3,485.0 837.0,485.8 850.0,485.0 C863.0,484.2 881.7,482.8 900.0,482.0 C918.3,481.2 940.0,480.5 960.0,480.0 C980.0,479.5 1004.2,478.8 1020.0,479.0 C1035.8,479.2 1045.0,479.7 1055.0,481.5 C1065.0,483.3 1077.2,487.4 1080.0,490.0 C1082.8,492.6 1077.8,494.8 1072.0,497.0 C1066.2,499.2 1055.0,500.8 1045.0,503.0 C1035.0,505.2 1022.0,507.2 1012.0,510.0 C1002.0,512.8 995.3,517.3 985.0,520.0 C974.7,522.7 964.2,524.7 950.0,526.0 C935.8,527.3 916.7,527.8 900.0,528.0 C883.3,528.2 864.7,527.8 850.0,527.0 C835.3,526.2 822.0,525.5 812.0,523.0 C802.0,520.5 792.0,516.3 790.0,512.0Z" fill="#a0957f" opacity="0.85" filter="url(#blur3)"/>
<path d="M815,505 C850,492 930,488 1000,486 C1040,485 1060,488 1066,491 C1040,499 990,508 960,516 C900,524 840,522 815,505Z" fill="#7f7567" opacity="0.32" filter="url(#blur3)"/>
<clipPath id="cSh"><path d="M790.0,512.0 C788.0,507.7 794.7,501.2 800.0,497.0 C805.3,492.8 813.7,489.0 822.0,487.0 C830.3,485.0 837.0,485.8 850.0,485.0 C863.0,484.2 881.7,482.8 900.0,482.0 C918.3,481.2 940.0,480.5 960.0,480.0 C980.0,479.5 1004.2,478.8 1020.0,479.0 C1035.8,479.2 1045.0,479.7 1055.0,481.5 C1065.0,483.3 1077.2,487.4 1080.0,490.0 C1082.8,492.6 1077.8,494.8 1072.0,497.0 C1066.2,499.2 1055.0,500.8 1045.0,503.0 C1035.0,505.2 1022.0,507.2 1012.0,510.0 C1002.0,512.8 995.3,517.3 985.0,520.0 C974.7,522.7 964.2,524.7 950.0,526.0 C935.8,527.3 916.7,527.8 900.0,528.0 C883.3,528.2 864.7,527.8 850.0,527.0 C835.3,526.2 822.0,525.5 812.0,523.0 C802.0,520.5 792.0,516.3 790.0,512.0Z"/></clipPath>
<g clip-path="url(#cSh)" filter="url(#blur1)"><rect x="780" y="470" width="310" height="65" filter="url(#scales)" opacity="0.16"/><rect x="780" y="470" width="310" height="65" filter="url(#scalesL)" opacity="0.16"/></g>
<path d="M822.0,415.0 C818.0,416.7 824.8,421.1 826.2,424.3 C827.6,427.6 828.9,431.0 830.5,434.5 C832.1,438.0 834.1,442.0 835.8,445.4 C837.5,448.8 838.9,451.8 840.5,455.0 C842.1,458.2 844.1,461.9 845.4,464.7 C846.7,467.5 847.5,469.8 848.5,472.0 C849.5,474.2 850.0,476.3 851.2,478.2 C852.4,480.1 853.9,481.9 855.5,483.5 C857.1,485.1 859.6,486.4 860.8,487.8 C862.0,489.2 861.6,491.4 862.5,491.8 C863.4,492.2 865.0,490.0 866.0,490.5 C867.0,491.0 867.6,494.9 868.6,495.0 C869.6,495.1 871.0,491.3 872.0,491.0 C873.0,490.7 873.9,493.2 874.6,493.0 C875.3,492.8 875.4,490.9 876.2,489.7 C877.0,488.5 878.3,487.7 879.4,486.0 C880.5,484.3 882.8,481.5 882.6,479.5 C882.5,477.5 879.9,475.8 878.5,474.0 C877.1,472.2 875.8,470.7 874.3,468.5 C872.8,466.3 871.1,463.6 869.5,461.0 C867.9,458.4 866.0,455.8 864.7,453.1 C863.4,450.4 862.5,447.6 861.5,445.0 C860.5,442.4 859.6,439.9 858.9,437.7 C858.2,435.5 857.7,434.3 857.5,432.0 C857.3,429.7 858.8,427.0 857.5,424.0 C856.2,421.0 855.9,415.5 850.0,414.0 C844.1,412.5 826.0,413.3 822.0,415.0Z" fill="#43382f"/>
<path d="M887.0,432.0 C885.1,432.9 888.4,435.2 888.8,437.7 C889.2,440.2 889.2,443.8 889.4,447.0 C889.5,450.2 889.4,454.2 889.7,457.0 C890.0,459.8 890.5,461.8 891.0,464.0 C891.5,466.2 893.0,468.5 892.6,470.5 C892.2,472.5 890.2,474.4 888.5,476.0 C886.8,477.6 884.0,478.6 882.5,480.0 C881.0,481.4 879.9,482.9 879.6,484.5 C879.3,486.1 880.1,488.3 880.8,489.5 C881.5,490.7 882.9,491.6 884.0,491.6 C885.1,491.6 886.4,489.4 887.5,489.4 C888.6,489.4 889.5,491.8 890.5,491.8 C891.5,491.9 892.6,489.9 893.6,489.7 C894.6,489.5 895.5,491.4 896.5,490.5 C897.5,489.6 898.4,487.1 899.3,484.3 C900.2,481.6 901.2,478.1 902.0,474.0 C902.8,469.9 903.8,465.0 904.0,460.0 C904.2,455.0 903.7,448.7 903.0,444.0 C902.3,439.3 902.7,434.0 900.0,432.0 C897.3,430.0 888.9,431.1 887.0,432.0Z" fill="#77746e"/>
<path d="M889,440 C893,452 894,462 893,472 L902,472 C904,460 903,448 900,438Z" fill="#4d4a45" opacity="0.6" filter="url(#blur1)"/>
<path d="M732.4,302.0 C732.6,299.2 732.3,299.5 733.4,298.0 C734.5,296.5 736.9,294.7 738.9,292.9 C740.9,291.1 743.1,289.2 745.4,287.3 C747.7,285.4 750.1,283.2 752.9,281.7 C755.7,280.2 758.7,279.2 762.1,278.4 C765.5,277.6 769.6,277.6 773.3,277.1 C777.0,276.6 781.0,275.8 784.4,275.2 C787.8,274.6 790.9,273.2 793.7,273.4 C796.5,273.5 798.6,274.9 801.1,276.1 C803.6,277.3 805.7,279.4 808.5,280.8 C811.3,282.2 815.0,282.8 817.8,284.5 C820.6,286.2 822.8,288.8 825.3,291.0 C827.8,293.2 830.5,295.6 832.7,297.5 C834.9,299.4 836.1,300.1 838.3,302.1 C840.5,304.1 842.9,307.0 845.7,309.6 C848.5,312.2 851.8,315.6 855.0,317.9 C858.2,320.2 861.2,322.3 865.0,323.6 C868.8,324.9 873.5,325.3 878.0,325.6 C882.5,325.9 887.5,325.3 892.0,325.3 C896.5,325.3 900.4,325.3 905.0,325.6 C909.6,325.9 914.8,326.5 919.5,327.0 C924.2,327.5 928.4,328.0 933.0,328.6 C937.6,329.2 943.0,330.0 947.0,330.8 C951.0,331.6 953.6,332.5 957.0,333.5 C960.4,334.5 964.4,335.9 967.6,337.0 C970.8,338.1 973.1,338.9 976.0,340.0 C978.9,341.1 982.0,341.9 984.7,343.3 C987.4,344.7 989.5,346.5 992.0,348.5 C994.5,350.5 997.2,353.1 999.5,355.5 C1001.8,357.9 1003.9,360.1 1006.0,362.6 C1008.1,365.1 1010.5,368.0 1012.2,370.5 C1014.0,373.0 1015.1,375.0 1016.5,377.5 C1017.9,380.0 1019.3,382.6 1020.7,385.3 C1022.1,388.0 1023.6,390.8 1025.0,393.5 C1026.4,396.2 1027.7,399.1 1029.2,401.6 C1030.7,404.1 1032.2,406.4 1034.0,408.5 C1035.8,410.6 1037.5,412.4 1039.7,414.3 C1042.0,416.2 1044.7,418.2 1047.5,420.0 C1050.3,421.8 1053.5,423.3 1056.7,424.9 C1060.0,426.5 1063.5,428.0 1067.0,429.4 C1070.5,430.8 1074.3,432.2 1077.9,433.4 C1081.5,434.6 1085.0,435.8 1088.5,436.8 C1092.0,437.9 1096.4,438.6 1099.0,439.7 C1101.6,440.8 1103.5,442.1 1104.3,443.4 C1105.1,444.7 1104.8,446.6 1103.6,447.6 C1102.4,448.6 1099.2,449.2 1097.0,449.6 C1094.8,450.0 1093.4,450.0 1090.6,449.8 C1087.8,449.6 1083.5,449.1 1080.0,448.5 C1076.5,447.9 1073.0,447.4 1069.4,446.4 C1065.8,445.4 1062.0,444.1 1058.5,442.6 C1055.0,441.1 1051.1,439.3 1048.2,437.6 C1045.3,435.9 1043.1,434.2 1041.0,432.4 C1038.9,430.6 1037.2,429.0 1035.5,427.0 C1033.8,425.0 1031.8,422.3 1030.5,420.5 C1029.2,418.7 1027.5,414.9 1027.5,416.0 C1027.5,417.1 1029.5,423.4 1030.5,427.0 C1031.5,430.6 1032.4,434.4 1033.4,437.6 C1034.4,440.8 1035.5,443.3 1036.5,446.0 C1037.5,448.7 1038.8,451.5 1039.7,454.0 C1040.6,456.5 1040.8,458.2 1041.9,461.2 C1043.0,464.2 1045.1,468.7 1046.1,471.8 C1047.0,474.9 1047.4,477.9 1047.6,480.0 C1047.8,482.1 1047.5,482.5 1047.2,484.3 C1046.9,486.1 1046.5,490.5 1045.5,491.0 C1044.5,491.5 1042.3,487.2 1041.0,487.5 C1039.7,487.8 1039.1,492.6 1037.5,492.8 C1035.9,493.0 1033.0,488.8 1031.3,488.9 C1029.5,489.0 1028.5,493.3 1027.0,493.2 C1025.5,493.1 1023.7,488.8 1022.0,488.5 C1020.3,488.2 1018.4,491.4 1016.6,491.3 C1014.9,491.2 1012.9,489.3 1011.5,488.0 C1010.1,486.7 1008.9,485.1 1008.3,483.5 C1007.7,481.9 1007.5,480.1 1008.0,478.1 C1008.5,476.1 1010.5,473.6 1011.5,471.5 C1012.5,469.4 1014.0,467.5 1014.3,465.4 C1014.5,463.3 1013.7,461.1 1013.0,459.0 C1012.3,456.9 1011.3,455.2 1010.1,452.7 C1008.9,450.2 1007.4,446.9 1006.0,444.0 C1004.6,441.1 1003.1,438.3 1001.6,435.5 C1000.1,432.7 998.4,429.8 997.0,427.0 C995.6,424.2 994.7,421.1 993.2,418.6 C991.8,416.1 990.3,412.7 988.3,411.8 C986.3,410.9 983.3,412.5 981.0,413.2 C978.7,413.9 977.3,414.7 974.5,415.8 C971.7,416.9 967.5,418.5 964.0,420.0 C960.5,421.5 956.6,423.3 953.2,424.8 C949.8,426.3 947.1,427.7 943.6,428.8 C940.1,429.9 935.9,430.7 932.0,431.5 C928.1,432.3 923.7,433.0 920.0,433.6 C916.3,434.2 913.3,434.9 910.0,435.4 C906.7,435.9 903.7,436.3 900.0,436.4 C896.3,436.5 891.1,436.1 887.8,435.8 C884.5,435.5 882.6,435.1 880.0,434.6 C877.4,434.1 875.1,433.6 872.4,432.9 C869.7,432.2 866.6,431.3 864.0,430.5 C861.4,429.7 859.7,428.8 857.0,428.1 C854.3,427.5 850.8,427.0 848.0,426.6 C845.2,426.2 842.7,426.2 840.0,426.0 C837.3,425.8 834.3,425.9 832.0,425.5 C829.7,425.1 828.0,424.6 826.2,423.3 C824.5,422.0 822.8,419.4 821.5,417.5 C820.2,415.6 819.7,414.0 818.5,411.7 C817.3,409.4 815.8,406.2 814.5,403.5 C813.2,400.8 811.5,398.1 810.8,395.4 C810.0,392.6 810.0,389.3 810.0,387.0 C810.0,384.7 810.5,383.3 810.6,381.5 C810.7,379.7 810.7,378.2 810.4,376.4 C810.1,374.6 809.6,372.4 809.0,370.5 C808.4,368.6 808.6,366.0 806.7,365.3 C804.8,364.6 800.8,365.3 797.4,366.2 C794.0,367.1 789.7,368.8 786.3,370.8 C782.9,372.8 780.4,376.0 777.0,378.3 C773.6,380.6 769.2,383.6 765.8,384.8 C762.4,386.0 759.1,386.0 756.6,385.6 C754.1,385.2 752.1,383.7 751.0,382.3 C749.9,380.9 749.5,378.9 749.8,377.3 C750.1,375.7 751.5,375.1 752.9,372.5 C754.3,369.9 756.9,365.5 758.4,361.5 C759.9,357.5 761.2,352.9 762.1,348.6 C763.0,344.3 764.3,339.0 764.0,335.6 C763.7,332.2 761.8,329.7 760.3,328.1 C758.8,326.6 756.2,325.9 754.7,326.3 C753.2,326.7 752.2,330.8 751.3,330.5 C750.4,330.2 751.0,325.7 749.1,324.4 C747.2,323.1 742.4,323.4 739.9,322.6 C737.4,321.8 735.6,321.1 734.4,319.8 C733.1,318.5 732.7,318.0 732.4,315.0 C732.1,312.0 732.2,304.8 732.4,302.0Z" fill="url(#bodyG)"/>
<g clip-path="url(#cBody)">
<path d="M806,362 C812,385 818,410 830,430 L905,440 C925,438 950,430 975,418 C950,412 905,408 875,398 C850,388 830,372 822,352Z" fill="#8f7044" opacity="0.9" filter="url(#blur5)"/>
<path d="M812,380 C816,400 824,418 834,428 L880,436 C868,420 846,402 832,380Z" fill="#9c7a4a" opacity="0.65" filter="url(#blur3)"/>
<path d="M860,340 C890,334 930,338 960,346 C975,352 985,362 985,372 C960,360 925,352 895,352 C880,352 868,350 860,340Z" fill="#8c6a3d" opacity="0.55" filter="url(#blur3)"/>
<path d="M840,300 C860,318 900,322 950,326 C985,334 1005,352 1020,384 L1000,390 C985,360 960,345 920,340 C890,338 860,336 840,320Z" fill="#33342f" opacity="0.55" filter="url(#blur3)"/>
<path d="M905,380 C930,372 960,380 975,400 C960,420 940,428 925,430 C935,410 925,392 905,380Z" fill="#4b4943" opacity="0.6" filter="url(#blur3)"/>
<path d="M985,350 C1005,360 1022,390 1030,420 C1036,440 1042,460 1046,480 L1010,486 C1012,460 1000,430 990,410 C982,392 978,370 985,350Z" fill="#4a463f" opacity="0.75" filter="url(#blur2)"/>
<path d="M1006,472 L1049,468 L1049,495 L1006,493Z" fill="#85827b" opacity="0.85" filter="url(#blur1)"/>
<path d="M1012,372 C1024,400 1036,420 1060,430 L1106,442 L1104,452 L1060,448 C1040,440 1028,425 1022,405Z" fill="url(#tailG)"/>
<rect x="728" y="268" width="382" height="230" filter="url(#scales)" opacity="0.4"/>
<rect x="728" y="268" width="382" height="230" filter="url(#scalesL)" opacity="0.2"/>
<path d="M729,300 C738,284 768,273 795,271 C816,275 834,292 848,309 C852,328 846,350 830,364 C818,356 810,338 807,321 C790,318 770,322 757,328 L731,322Z" fill="#6d7472" opacity="0.72" filter="url(#blur1)"/>
<path d="M734,297 C746,284 770,276 792,274 C788,283 770,288 754,294 C746,298 742,304 736,304Z" fill="#959b99" opacity="0.7" filter="url(#blur2)"/>
<path d="M733,308 C745,300 770,298 800,300 C812,302 822,308 826,316 C810,312 790,314 770,318 C755,321 742,323 733,320Z" fill="#565c5b" opacity="0.6" filter="url(#blur2)"/>
<path d="M736,318 C750,322 775,320 806,318 L806,322 C780,324 752,328 736,322Z" fill="#3d3431" opacity="0.7" filter="url(#blur1)"/>
<path d="M806,300 C820,304 832,318 836,340 C832,352 824,360 816,364 C812,350 808,335 806,320Z" fill="#7a807d" opacity="0.5" filter="url(#blur2)"/>
<path d="M740,292 C750,283 766,279 780,278 C788,277 796,275 804,278 C796,281 786,283 776,285 C764,288 750,293 742,298Z" fill="#a3a9a7" opacity="0.55" filter="url(#blur1)"/>
<path d="M733,312 C750,314 780,312 806,314 L806,319 C780,320 750,322 734,319Z" fill="#474b4a" opacity="0.55" filter="url(#blur1)"/>
<path d="M750,378 C770,372 790,358 806,322 C816,330 822,350 812,368 C795,366 775,384 756,386Z" fill="#7f7e77" opacity="0.75" filter="url(#blur1)"/>
<path d="M752,383 C770,382 786,370 806,364 L810,372 C795,372 778,386 758,388Z" fill="#43382e" opacity="0.85" filter="url(#blur1)"/>
<path d="M824,290 C833,310 838,336 844,354 C848,338 844,312 835,297Z" fill="#34332f" opacity="0.7" filter="url(#blur1)"/>
<rect x="728" y="268" width="125" height="125" filter="url(#scales)" opacity="0.2"/>
<rect x="728" y="268" width="125" height="125" filter="url(#scalesL)" opacity="0.12"/>
</g>
<path d="M757.5,327.6 C757.2,325.9 759.5,326.2 762.1,325.6 C764.7,325.0 769.6,324.5 773.3,323.8 C777.0,323.1 780.1,322.0 784.4,321.2 C788.7,320.4 795.8,319.2 799.3,319.2 C802.8,319.1 804.6,319.1 805.2,320.9 C805.8,322.7 804.0,326.9 803.0,330.0 C802.0,333.1 800.6,336.5 799.3,339.3 C798.0,342.1 796.5,344.5 795.0,347.0 C793.5,349.5 791.7,351.9 790.0,354.1 C788.3,356.3 786.5,358.1 784.6,360.0 C782.7,361.9 781.6,363.2 778.8,365.3 C776.0,367.4 771.4,370.8 767.7,372.7 C764.0,374.6 759.1,376.6 756.6,377.0 C754.1,377.4 752.7,376.7 752.6,375.0 C752.5,373.3 755.0,369.2 756.0,367.0 C757.0,364.8 757.4,364.6 758.4,361.5 C759.4,358.4 761.2,352.9 762.1,348.6 C763.0,344.3 764.8,339.1 764.0,335.6 C763.2,332.1 757.8,329.3 757.5,327.6Z" fill="#2a1816"/>
<path d="M766,340 C772,336 786,333 797,333 C794,344 786,355 776,363 C770,368 762,372 757,373 C762,362 765,350 766,340Z" fill="#8c5e5a" opacity="0.85" filter="url(#blur1)"/>
<path d="M770,346 C777,343 786,342 792,342 C788,350 782,357 774,363 C770,360 769,352 770,346Z" fill="#4a2724" opacity="0.8" filter="url(#soft)"/>
<path d="M755,376 C765,372 778,364 788,354 C796,346 801,336 804,326" fill="none" stroke="#b9a59a" stroke-width="1.6" opacity="0.75" filter="url(#soft)"/>
<path d="M751,325 l0.8,5.5 l1.6,-5 M757,327 l0.6,4.2 l1.4,-4 M763,326 l0.6,3.6 l1.3,-3.6 M769,325 l0.6,3.4 l1.3,-3.5 M775,324 l0.6,3.2 l1.3,-3.3 M781,323 l0.6,3 l1.3,-3.2 M787,322 l0.6,2.8 l1.3,-3" fill="none" stroke="#b9aa92" stroke-width="0.9" opacity="0.6"/>
<ellipse cx="798.5" cy="287.6" rx="5.2" ry="3.6" fill="#4a3426" opacity="0.85" filter="url(#soft)"/>
<ellipse cx="798.6" cy="288" rx="1.9" ry="1.4" fill="#9a5e2c" opacity="0.9" filter="url(#soft)"/>
<path d="M789,281 C794,276.5 802,277 808,283" fill="none" stroke="#2f302e" stroke-width="2.2" opacity="0.8" filter="url(#soft)"/>
<ellipse cx="752.6" cy="298.2" rx="1.8" ry="1.3" fill="#2c2222" opacity="0.9" filter="url(#soft)"/>
<path d="M893.0,398.0 C889.1,405.1 891.5,410.3 891.6,414.6 C891.7,418.9 892.9,420.8 893.5,424.0 C894.1,427.2 894.6,430.6 895.5,433.9 C896.4,437.1 897.7,440.3 899.0,443.5 C900.3,446.7 902.5,449.9 903.2,453.1 C903.9,456.4 903.3,459.8 903.0,463.0 C902.7,466.2 901.9,469.2 901.3,472.4 C900.7,475.6 900.1,478.8 899.5,482.0 C898.9,485.2 898.4,488.9 897.4,491.6 C896.4,494.4 895.1,496.5 893.5,498.5 C891.9,500.5 890.7,502.2 887.8,503.6 C884.9,505.0 879.3,505.8 876.0,507.0 C872.7,508.2 869.6,509.3 868.0,510.6 C866.4,511.9 866.2,513.4 866.6,514.7 C867.0,516.0 868.9,518.0 870.5,518.2 C872.1,518.4 874.3,515.6 876.0,516.0 C877.7,516.4 878.8,520.6 880.5,520.8 C882.2,521.0 884.2,516.9 886.0,517.0 C887.8,517.1 889.6,521.5 891.5,521.6 C893.4,521.7 895.5,517.5 897.5,517.4 C899.5,517.3 901.5,521.1 903.5,521.0 C905.5,520.9 907.6,517.1 909.5,516.6 C911.4,516.1 913.6,518.6 915.0,518.2 C916.4,517.8 917.4,515.8 918.0,514.4 C918.6,513.0 918.8,511.6 918.6,510.0 C918.4,508.4 916.9,507.0 917.0,505.0 C917.1,503.0 918.7,500.2 919.5,498.0 C920.3,495.8 920.9,494.2 922.0,492.0 C923.1,489.8 924.7,488.0 926.3,484.8 C927.9,481.6 929.6,477.0 931.5,473.0 C933.4,469.0 936.3,464.3 937.8,460.8 C939.3,457.3 939.8,454.9 940.5,452.0 C941.2,449.1 942.0,446.0 942.2,443.5 C942.4,441.0 941.8,439.6 941.5,437.0 C941.2,434.4 939.9,431.7 940.5,428.0 C941.1,424.3 943.8,419.7 945.0,415.0 C946.2,410.3 948.8,405.8 948.0,400.0 C947.2,394.2 945.5,384.7 940.0,380.0 C934.5,375.3 922.8,369.0 915.0,372.0 C907.2,375.0 896.9,390.9 893.0,398.0Z" fill="url(#legG)"/>
<g clip-path="url(#cLeg)">
<path d="M890,395 L950,395 L945,440 C930,430 905,425 893,432Z" fill="#5a564f" opacity="0.8" filter="url(#blur2)"/>
<path d="M862,506 L922,500 L922,524 L862,524Z" fill="#8d8a86" opacity="0.9" filter="url(#blur1)"/>
<rect x="860" y="370" width="95" height="155" filter="url(#scales)" opacity="0.36"/>
<rect x="860" y="370" width="95" height="155" filter="url(#scalesL)" opacity="0.2"/>
</g>
<text x="984.4" y="317.3" font-size="14.6" fill="#1c1c1c" stroke="#1c1c1c" stroke-width="0.15" textLength="111.6" lengthAdjust="spacingAndGlyphs">Poposauroidea</text>
<circle cx="592.6" cy="347.4" r="2.6" fill="#C42833"/>
<path d="M598,347.4 H652.6 L670.4,334.4 H731" stroke="#D03E48" stroke-width="1.9" stroke-dasharray="0.01 4.5" stroke-linecap="round" fill="none"/>
<path d="M739.8,334.4 L730.2,330.6 L733,334.4 L730.2,338.2Z" fill="#C42833"/>
</svg>
</body></html>
